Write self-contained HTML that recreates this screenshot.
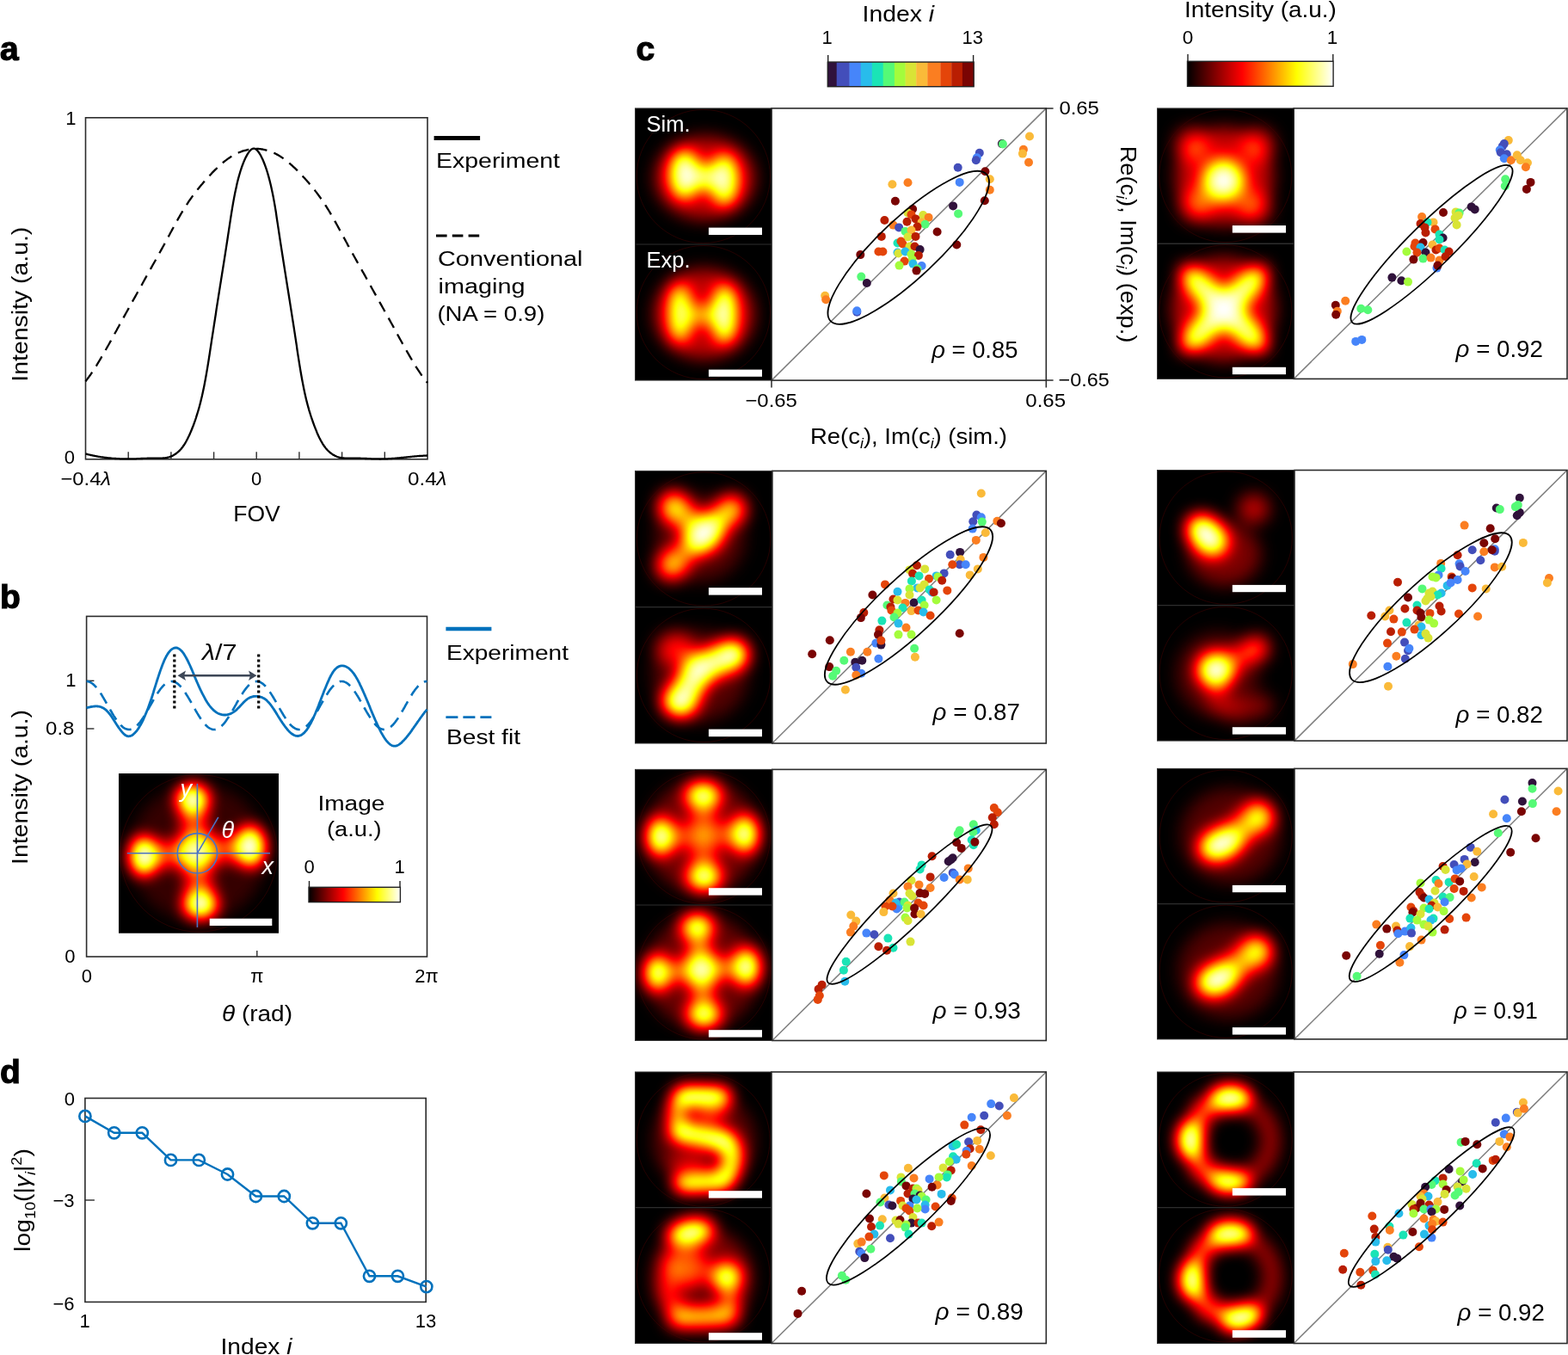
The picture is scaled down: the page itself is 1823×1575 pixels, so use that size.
<!DOCTYPE html>
<html><head><meta charset="utf-8"><style>
html,body{margin:0;padding:0;background:#fff;overflow:hidden;}
svg{display:block;}
text{font-family:'Liberation Sans', Arial, sans-serif;}
</style></head><body>
<svg width="1823" height="1575" viewBox="0 0 1823 1575">
<defs>
<linearGradient id="hotg" x1="0" x2="1" y1="0" y2="0"><stop offset="0" stop-color="#000"/><stop offset="0.375" stop-color="#f00"/><stop offset="0.75" stop-color="#ff0"/><stop offset="1" stop-color="#fff"/></linearGradient>
<filter id="hot9_5" x="-10%" y="-10%" width="120%" height="120%" color-interpolation-filters="sRGB"><feGaussianBlur stdDeviation="9.5"/><feComponentTransfer><feFuncR type="table" tableValues="0 0.3333 0.6667 1 1 1 1 1 1"/><feFuncG type="table" tableValues="0 0 0 0 0.3333 0.6667 1 1 1"/><feFuncB type="table" tableValues="0 0 0 0 0 0 0 0.5 1"/><feFuncA type="linear" slope="0" intercept="1"/></feComponentTransfer></filter>
<clipPath id="cl1"><rect x="738.50" y="125.90" width="158.50" height="158.10"/></clipPath>
<clipPath id="cl2"><rect x="738.50" y="284.00" width="158.50" height="158.10"/></clipPath>
<clipPath id="cl3"><rect x="738.50" y="547.40" width="159.30" height="158.30"/></clipPath>
<clipPath id="cl4"><rect x="738.50" y="705.70" width="159.30" height="158.30"/></clipPath>
<clipPath id="cl5"><rect x="738.50" y="894.40" width="159.25" height="157.55"/></clipPath>
<clipPath id="cl6"><rect x="738.50" y="1051.95" width="159.25" height="157.55"/></clipPath>
<filter id="hot9" x="-10%" y="-10%" width="120%" height="120%" color-interpolation-filters="sRGB"><feGaussianBlur stdDeviation="9"/><feComponentTransfer><feFuncR type="table" tableValues="0 0.3333 0.6667 1 1 1 1 1 1"/><feFuncG type="table" tableValues="0 0 0 0 0.3333 0.6667 1 1 1"/><feFuncB type="table" tableValues="0 0 0 0 0 0 0 0.5 1"/><feFuncA type="linear" slope="0" intercept="1"/></feComponentTransfer></filter>
<clipPath id="cl7"><rect x="738.50" y="1246.00" width="158.35" height="157.75"/></clipPath>
<clipPath id="cl8"><rect x="738.50" y="1403.75" width="158.35" height="157.75"/></clipPath>
<filter id="hot10" x="-10%" y="-10%" width="120%" height="120%" color-interpolation-filters="sRGB"><feGaussianBlur stdDeviation="10"/><feComponentTransfer><feFuncR type="table" tableValues="0 0.3333 0.6667 1 1 1 1 1 1"/><feFuncG type="table" tableValues="0 0 0 0 0.3333 0.6667 1 1 1"/><feFuncB type="table" tableValues="0 0 0 0 0 0 0 0.5 1"/><feFuncA type="linear" slope="0" intercept="1"/></feComponentTransfer></filter>
<clipPath id="cl9"><rect x="1345.50" y="125.90" width="158.70" height="157.25"/></clipPath>
<clipPath id="cl10"><rect x="1345.50" y="283.15" width="158.70" height="157.25"/></clipPath>
<clipPath id="cl11"><rect x="1345.50" y="546.50" width="159.40" height="157.30"/></clipPath>
<clipPath id="cl12"><rect x="1345.50" y="703.80" width="159.40" height="157.30"/></clipPath>
<clipPath id="cl13"><rect x="1345.50" y="893.40" width="159.40" height="157.25"/></clipPath>
<clipPath id="cl14"><rect x="1345.50" y="1050.65" width="159.40" height="157.25"/></clipPath>
<clipPath id="cl15"><rect x="1345.50" y="1246.00" width="158.70" height="157.75"/></clipPath>
<clipPath id="cl16"><rect x="1345.50" y="1403.75" width="158.70" height="157.75"/></clipPath>
<clipPath id="cl17"><rect x="138.00" y="899.10" width="186.00" height="185.60"/></clipPath>
</defs>
<rect width="1823" height="1575" fill="#fff"/>
<text x="0.0" y="69.9" font-size="39" font-weight="900" stroke="#000" stroke-width="1.2">a</text>
<text x="0.0" y="707.2" font-size="39" font-weight="900" stroke="#000" stroke-width="1.2">b</text>
<text x="739.5" y="69.7" font-size="39" font-weight="900" stroke="#000" stroke-width="1.2">c</text>
<text x="0.0" y="1259.4" font-size="39" font-weight="900" stroke="#000" stroke-width="1.2">d</text>
<rect x="99.5" y="136.8" width="397.5" height="396.99999999999994" fill="none" stroke="#2b2b2b" stroke-width="1.6"/>
<line x1="149.2" y1="533.8" x2="149.2" y2="525.3" stroke="#2b2b2b" stroke-width="1.4"/>
<line x1="198.9" y1="533.8" x2="198.9" y2="525.3" stroke="#2b2b2b" stroke-width="1.4"/>
<line x1="248.6" y1="533.8" x2="248.6" y2="525.3" stroke="#2b2b2b" stroke-width="1.4"/>
<line x1="298.2" y1="533.8" x2="298.2" y2="525.3" stroke="#2b2b2b" stroke-width="1.4"/>
<line x1="347.9" y1="533.8" x2="347.9" y2="525.3" stroke="#2b2b2b" stroke-width="1.4"/>
<line x1="397.6" y1="533.8" x2="397.6" y2="525.3" stroke="#2b2b2b" stroke-width="1.4"/>
<line x1="447.3" y1="533.8" x2="447.3" y2="525.3" stroke="#2b2b2b" stroke-width="1.4"/>
<path d="M99.5,527.5 L100.3,527.7 L101.1,527.9 L101.9,528.1 L102.7,528.3 L103.5,528.5 L104.3,528.7 L105.1,528.9 L105.9,529.1 L106.7,529.2 L107.5,529.4 L108.3,529.6 L109.1,529.7 L109.9,529.9 L110.7,530.1 L111.4,530.2 L112.2,530.4 L113.0,530.5 L113.8,530.6 L114.6,530.8 L115.4,530.9 L116.2,531.0 L117.0,531.2 L117.8,531.3 L118.6,531.4 L119.4,531.5 L120.2,531.6 L121.0,531.7 L121.8,531.8 L122.6,531.9 L123.4,532.0 L124.2,532.1 L125.0,532.2 L125.8,532.3 L126.6,532.4 L127.4,532.5 L128.2,532.5 L129.0,532.6 L129.8,532.7 L130.6,532.8 L131.4,532.8 L132.2,532.9 L133.0,532.9 L133.8,533.0 L134.6,533.0 L135.3,533.1 L136.1,533.1 L136.9,533.2 L137.7,533.2 L138.5,533.2 L139.3,533.3 L140.1,533.3 L140.9,533.3 L141.7,533.4 L142.5,533.4 L143.3,533.4 L144.1,533.4 L144.9,533.4 L145.7,533.4 L146.5,533.4 L147.3,533.4 L148.1,533.4 L148.9,533.4 L149.7,533.4 L150.5,533.4 L151.3,533.4 L152.1,533.4 L152.9,533.4 L153.7,533.4 L154.5,533.4 L155.3,533.3 L156.1,533.3 L156.9,533.3 L157.7,533.3 L158.4,533.3 L159.2,533.2 L160.0,533.2 L160.8,533.2 L161.6,533.1 L162.4,533.1 L163.2,533.1 L164.0,533.0 L164.8,533.0 L165.6,533.0 L166.4,532.9 L167.2,532.9 L168.0,532.9 L168.8,532.8 L169.6,532.8 L170.4,532.8 L171.2,532.7 L172.0,532.7 L172.8,532.7 L173.6,532.7 L174.4,532.6 L175.2,532.6 L176.0,532.6 L176.8,532.6 L177.6,532.6 L178.4,532.6 L179.2,532.6 L180.0,532.6 L180.8,532.6 L181.5,532.6 L182.3,532.6 L183.1,532.6 L183.9,532.7 L184.7,532.7 L185.5,532.7 L186.3,532.7 L187.1,532.6 L187.9,532.6 L188.7,532.6 L189.5,532.5 L190.3,532.5 L191.1,532.4 L191.9,532.3 L192.7,532.2 L193.5,532.1 L194.3,531.9 L195.1,531.7 L195.9,531.5 L196.7,531.3 L197.5,531.0 L198.3,530.7 L199.1,530.4 L199.9,530.1 L200.7,529.7 L201.5,529.3 L202.3,528.8 L203.1,528.3 L203.9,527.8 L204.7,527.3 L205.4,526.7 L206.2,526.0 L207.0,525.3 L207.8,524.6 L208.6,523.9 L209.4,523.0 L210.2,522.2 L211.0,521.2 L211.8,520.2 L212.6,519.2 L213.4,518.0 L214.2,516.8 L215.0,515.6 L215.8,514.2 L216.6,512.8 L217.4,511.3 L218.2,509.8 L219.0,508.1 L219.8,506.5 L220.6,504.7 L221.4,502.9 L222.2,501.0 L223.0,499.0 L223.8,497.0 L224.6,495.0 L225.4,492.8 L226.2,490.6 L227.0,488.4 L227.8,486.0 L228.5,483.6 L229.3,481.1 L230.1,478.5 L230.9,475.8 L231.7,473.0 L232.5,470.0 L233.3,466.9 L234.1,463.6 L234.9,460.2 L235.7,456.6 L236.5,452.8 L237.3,448.9 L238.1,444.8 L238.9,440.5 L239.7,436.0 L240.5,431.4 L241.3,426.6 L242.1,421.7 L242.9,416.6 L243.7,411.5 L244.5,406.2 L245.3,401.0 L246.1,395.7 L246.9,390.5 L247.7,385.3 L248.5,380.1 L249.3,375.0 L250.1,369.8 L250.9,364.8 L251.6,359.7 L252.4,354.6 L253.2,349.6 L254.0,344.5 L254.8,339.5 L255.6,334.4 L256.4,329.4 L257.2,324.4 L258.0,319.3 L258.8,314.3 L259.6,309.2 L260.4,304.2 L261.2,299.1 L262.0,294.0 L262.8,288.9 L263.6,283.7 L264.4,278.5 L265.2,273.2 L266.0,267.9 L266.8,262.6 L267.6,257.3 L268.4,252.1 L269.2,247.0 L270.0,242.1 L270.8,237.4 L271.6,232.9 L272.4,228.6 L273.2,224.6 L274.0,220.8 L274.8,217.2 L275.5,213.7 L276.3,210.5 L277.1,207.4 L277.9,204.5 L278.7,201.7 L279.5,199.0 L280.3,196.6 L281.1,194.2 L281.9,192.0 L282.7,189.9 L283.5,187.9 L284.3,186.0 L285.1,184.3 L285.9,182.6 L286.7,181.1 L287.5,179.6 L288.3,178.3 L289.1,177.1 L289.9,176.1 L290.7,175.1 L291.5,174.3 L292.3,173.7 L293.1,173.1 L293.9,172.8 L294.7,172.6 L295.5,172.6 L296.3,172.8 L297.1,173.2 L297.9,173.8 L298.6,174.5 L299.4,175.3 L300.2,176.2 L301.0,177.3 L301.8,178.5 L302.6,179.8 L303.4,181.3 L304.2,182.9 L305.0,184.5 L305.8,186.3 L306.6,188.2 L307.4,190.2 L308.2,192.3 L309.0,194.6 L309.8,196.9 L310.6,199.5 L311.4,202.1 L312.2,204.9 L313.0,207.9 L313.8,211.0 L314.6,214.3 L315.4,217.7 L316.2,221.4 L317.0,225.2 L317.8,229.3 L318.6,233.6 L319.4,238.1 L320.2,242.9 L321.0,247.8 L321.7,252.9 L322.5,258.1 L323.3,263.4 L324.1,268.7 L324.9,274.0 L325.7,279.3 L326.5,284.5 L327.3,289.7 L328.1,294.8 L328.9,299.9 L329.7,305.0 L330.5,310.0 L331.3,315.1 L332.1,320.1 L332.9,325.2 L333.7,330.2 L334.5,335.2 L335.3,340.3 L336.1,345.3 L336.9,350.4 L337.7,355.4 L338.5,360.5 L339.3,365.6 L340.1,370.7 L340.9,375.8 L341.7,380.9 L342.5,386.1 L343.3,391.3 L344.1,396.6 L344.9,401.8 L345.6,407.1 L346.4,412.3 L347.2,417.4 L348.0,422.5 L348.8,427.4 L349.6,432.2 L350.4,436.8 L351.2,441.2 L352.0,445.4 L352.8,449.5 L353.6,453.4 L354.4,457.2 L355.2,460.8 L356.0,464.2 L356.8,467.4 L357.6,470.5 L358.4,473.4 L359.2,476.3 L360.0,478.9 L360.8,481.5 L361.6,484.0 L362.4,486.4 L363.2,488.7 L364.0,491.0 L364.8,493.2 L365.6,495.3 L366.4,497.4 L367.2,499.4 L368.0,501.3 L368.7,503.2 L369.5,505.0 L370.3,506.7 L371.1,508.4 L371.9,510.0 L372.7,511.6 L373.5,513.0 L374.3,514.4 L375.1,515.8 L375.9,517.0 L376.7,518.2 L377.5,519.3 L378.3,520.4 L379.1,521.4 L379.9,522.3 L380.7,523.2 L381.5,524.0 L382.3,524.7 L383.1,525.5 L383.9,526.1 L384.7,526.8 L385.5,527.3 L386.3,527.9 L387.1,528.4 L387.9,528.9 L388.7,529.3 L389.5,529.8 L390.3,530.1 L391.1,530.5 L391.8,530.8 L392.6,531.1 L393.4,531.3 L394.2,531.6 L395.0,531.8 L395.8,531.9 L396.6,532.1 L397.4,532.2 L398.2,532.3 L399.0,532.4 L399.8,532.5 L400.6,532.6 L401.4,532.6 L402.2,532.6 L403.0,532.7 L403.8,532.7 L404.6,532.7 L405.4,532.7 L406.2,532.7 L407.0,532.6 L407.8,532.6 L408.6,532.6 L409.4,532.6 L410.2,532.6 L411.0,532.6 L411.8,532.6 L412.6,532.6 L413.4,532.6 L414.2,532.6 L415.0,532.6 L415.7,532.6 L416.5,532.7 L417.3,532.7 L418.1,532.7 L418.9,532.7 L419.7,532.8 L420.5,532.8 L421.3,532.8 L422.1,532.9 L422.9,532.9 L423.7,532.9 L424.5,533.0 L425.3,533.0 L426.1,533.0 L426.9,533.1 L427.7,533.1 L428.5,533.1 L429.3,533.2 L430.1,533.2 L430.9,533.2 L431.7,533.3 L432.5,533.3 L433.3,533.3 L434.1,533.3 L434.9,533.4 L435.7,533.4 L436.5,533.4 L437.3,533.4 L438.1,533.4 L438.8,533.4 L439.6,533.4 L440.4,533.4 L441.2,533.5 L442.0,533.5 L442.8,533.5 L443.6,533.4 L444.4,533.4 L445.2,533.4 L446.0,533.4 L446.8,533.4 L447.6,533.4 L448.4,533.4 L449.2,533.3 L450.0,533.3 L450.8,533.3 L451.6,533.2 L452.4,533.2 L453.2,533.1 L454.0,533.1 L454.8,533.1 L455.6,533.0 L456.4,532.9 L457.2,532.9 L458.0,532.8 L458.8,532.8 L459.6,532.7 L460.4,532.6 L461.2,532.6 L461.9,532.5 L462.7,532.4 L463.5,532.4 L464.3,532.3 L465.1,532.2 L465.9,532.1 L466.7,532.0 L467.5,532.0 L468.3,531.9 L469.1,531.8 L469.9,531.7 L470.7,531.6 L471.5,531.6 L472.3,531.5 L473.1,531.4 L473.9,531.3 L474.7,531.2 L475.5,531.1 L476.3,531.1 L477.1,531.0 L477.9,530.9 L478.7,530.8 L479.5,530.7 L480.3,530.7 L481.1,530.6 L481.9,530.5 L482.7,530.4 L483.5,530.4 L484.3,530.3 L485.1,530.2 L485.8,530.2 L486.6,530.1 L487.4,530.0 L488.2,530.0 L489.0,529.9 L489.8,529.9 L490.6,529.8 L491.4,529.8 L492.2,529.7 L493.0,529.7 L493.8,529.6 L494.6,529.6 L495.4,529.6 L496.2,529.5 L497.0,529.5" fill="none" stroke="#000" stroke-width="2.3" stroke-linejoin="round"/>
<path d="M99.5,443.2 L100.5,441.9 L101.5,440.6 L102.5,439.2 L103.5,437.9 L104.5,436.5 L105.5,435.1 L106.5,433.6 L107.5,432.1 L108.5,430.6 L109.5,429.1 L110.5,427.6 L111.5,426.0 L112.5,424.4 L113.4,422.8 L114.4,421.2 L115.4,419.5 L116.4,417.8 L117.4,416.2 L118.4,414.5 L119.4,412.8 L120.4,411.0 L121.4,409.3 L122.4,407.5 L123.4,405.8 L124.4,404.0 L125.4,402.2 L126.4,400.5 L127.4,398.7 L128.4,396.9 L129.4,395.1 L130.4,393.2 L131.4,391.4 L132.4,389.6 L133.4,387.8 L134.4,386.0 L135.4,384.2 L136.4,382.3 L137.4,380.5 L138.4,378.7 L139.3,376.9 L140.3,375.1 L141.3,373.3 L142.3,371.5 L143.3,369.7 L144.3,367.9 L145.3,366.1 L146.3,364.3 L147.3,362.5 L148.3,360.7 L149.3,358.9 L150.3,357.1 L151.3,355.3 L152.3,353.5 L153.3,351.7 L154.3,349.9 L155.3,348.2 L156.3,346.4 L157.3,344.6 L158.3,342.8 L159.3,341.0 L160.3,339.2 L161.3,337.4 L162.3,335.6 L163.3,333.8 L164.3,332.0 L165.3,330.2 L166.2,328.5 L167.2,326.7 L168.2,324.9 L169.2,323.1 L170.2,321.3 L171.2,319.5 L172.2,317.7 L173.2,315.9 L174.2,314.2 L175.2,312.4 L176.2,310.6 L177.2,308.8 L178.2,307.0 L179.2,305.2 L180.2,303.5 L181.2,301.7 L182.2,299.9 L183.2,298.1 L184.2,296.3 L185.2,294.5 L186.2,292.7 L187.2,290.9 L188.2,289.1 L189.2,287.3 L190.2,285.5 L191.2,283.7 L192.2,281.9 L193.1,280.0 L194.1,278.2 L195.1,276.4 L196.1,274.5 L197.1,272.7 L198.1,270.8 L199.1,269.0 L200.1,267.1 L201.1,265.3 L202.1,263.4 L203.1,261.6 L204.1,259.8 L205.1,258.0 L206.1,256.2 L207.1,254.4 L208.1,252.7 L209.1,250.9 L210.1,249.2 L211.1,247.5 L212.1,245.8 L213.1,244.2 L214.1,242.6 L215.1,241.0 L216.1,239.4 L217.1,237.9 L218.1,236.4 L219.0,234.9 L220.0,233.4 L221.0,232.0 L222.0,230.6 L223.0,229.2 L224.0,227.8 L225.0,226.4 L226.0,225.1 L227.0,223.8 L228.0,222.5 L229.0,221.2 L230.0,219.9 L231.0,218.7 L232.0,217.5 L233.0,216.3 L234.0,215.0 L235.0,213.9 L236.0,212.7 L237.0,211.5 L238.0,210.4 L239.0,209.2 L240.0,208.1 L241.0,207.0 L242.0,205.9 L243.0,204.8 L244.0,203.8 L245.0,202.7 L245.9,201.7 L246.9,200.6 L247.9,199.6 L248.9,198.6 L249.9,197.6 L250.9,196.7 L251.9,195.7 L252.9,194.7 L253.9,193.8 L254.9,192.9 L255.9,192.0 L256.9,191.1 L257.9,190.2 L258.9,189.4 L259.9,188.5 L260.9,187.7 L261.9,186.9 L262.9,186.2 L263.9,185.4 L264.9,184.7 L265.9,183.9 L266.9,183.3 L267.9,182.6 L268.9,181.9 L269.9,181.3 L270.9,180.7 L271.8,180.2 L272.8,179.6 L273.8,179.1 L274.8,178.6 L275.8,178.1 L276.8,177.7 L277.8,177.2 L278.8,176.8 L279.8,176.5 L280.8,176.1 L281.8,175.7 L282.8,175.4 L283.8,175.1 L284.8,174.8 L285.8,174.6 L286.8,174.3 L287.8,174.1 L288.8,173.8 L289.8,173.6 L290.8,173.5 L291.8,173.3 L292.8,173.1 L293.8,173.0 L294.8,172.9 L295.8,172.8 L296.8,172.8 L297.8,172.8 L298.7,172.8 L299.7,172.9 L300.7,173.0 L301.7,173.1 L302.7,173.2 L303.7,173.4 L304.7,173.5 L305.7,173.7 L306.7,174.0 L307.7,174.2 L308.7,174.4 L309.7,174.7 L310.7,175.0 L311.7,175.3 L312.7,175.6 L313.7,175.9 L314.7,176.3 L315.7,176.6 L316.7,177.0 L317.7,177.5 L318.7,177.9 L319.7,178.4 L320.7,178.8 L321.7,179.4 L322.7,179.9 L323.7,180.4 L324.7,181.0 L325.6,181.6 L326.6,182.3 L327.6,182.9 L328.6,183.6 L329.6,184.3 L330.6,185.0 L331.6,185.8 L332.6,186.5 L333.6,187.3 L334.6,188.1 L335.6,189.0 L336.6,189.8 L337.6,190.7 L338.6,191.6 L339.6,192.4 L340.6,193.4 L341.6,194.3 L342.6,195.2 L343.6,196.2 L344.6,197.1 L345.6,198.1 L346.6,199.1 L347.6,200.1 L348.6,201.2 L349.6,202.2 L350.6,203.2 L351.5,204.3 L352.5,205.4 L353.5,206.5 L354.5,207.6 L355.5,208.7 L356.5,209.8 L357.5,210.9 L358.5,212.1 L359.5,213.3 L360.5,214.5 L361.5,215.7 L362.5,216.9 L363.5,218.1 L364.5,219.3 L365.5,220.6 L366.5,221.9 L367.5,223.1 L368.5,224.4 L369.5,225.8 L370.5,227.1 L371.5,228.5 L372.5,229.9 L373.5,231.3 L374.5,232.7 L375.5,234.1 L376.5,235.6 L377.5,237.1 L378.4,238.6 L379.4,240.2 L380.4,241.8 L381.4,243.4 L382.4,245.0 L383.4,246.7 L384.4,248.4 L385.4,250.1 L386.4,251.8 L387.4,253.5 L388.4,255.3 L389.4,257.1 L390.4,258.9 L391.4,260.7 L392.4,262.5 L393.4,264.4 L394.4,266.2 L395.4,268.1 L396.4,269.9 L397.4,271.8 L398.4,273.6 L399.4,275.5 L400.4,277.3 L401.4,279.1 L402.4,281.0 L403.4,282.8 L404.3,284.6 L405.3,286.4 L406.3,288.2 L407.3,290.0 L408.3,291.8 L409.3,293.6 L410.3,295.4 L411.3,297.2 L412.3,299.0 L413.3,300.8 L414.3,302.6 L415.3,304.4 L416.3,306.1 L417.3,307.9 L418.3,309.7 L419.3,311.5 L420.3,313.3 L421.3,315.1 L422.3,316.8 L423.3,318.6 L424.3,320.4 L425.3,322.2 L426.3,324.0 L427.3,325.8 L428.3,327.6 L429.3,329.4 L430.3,331.2 L431.2,332.9 L432.2,334.7 L433.2,336.5 L434.2,338.3 L435.2,340.1 L436.2,341.9 L437.2,343.7 L438.2,345.5 L439.2,347.3 L440.2,349.1 L441.2,350.9 L442.2,352.6 L443.2,354.4 L444.2,356.2 L445.2,358.0 L446.2,359.8 L447.2,361.6 L448.2,363.4 L449.2,365.2 L450.2,367.0 L451.2,368.8 L452.2,370.6 L453.2,372.4 L454.2,374.2 L455.2,376.0 L456.2,377.8 L457.2,379.6 L458.1,381.4 L459.1,383.3 L460.1,385.1 L461.1,386.9 L462.1,388.7 L463.1,390.5 L464.1,392.4 L465.1,394.2 L466.1,396.0 L467.1,397.8 L468.1,399.6 L469.1,401.4 L470.1,403.1 L471.1,404.9 L472.1,406.7 L473.1,408.4 L474.1,410.2 L475.1,411.9 L476.1,413.6 L477.1,415.3 L478.1,417.0 L479.1,418.7 L480.1,420.3 L481.1,422.0 L482.1,423.6 L483.1,425.2 L484.0,426.8 L485.0,428.3 L486.0,429.9 L487.0,431.4 L488.0,432.9 L489.0,434.3 L490.0,435.8 L491.0,437.2 L492.0,438.6 L493.0,439.9 L494.0,441.2 L495.0,442.5 L496.0,443.8 L497.0,445.0" fill="none" stroke="#000" stroke-width="2.3" stroke-dasharray="13 8.5"/>
<text x="88.5" y="144.8" font-size="22" text-anchor="end">1</text>
<text x="87.0" y="539.2" font-size="22" text-anchor="end">0</text>
<text x="70.5" y="564.0" font-size="22" textLength="58.5" lengthAdjust="spacingAndGlyphs">&#8722;0.4<tspan font-style="italic">&#955;</tspan></text>
<text x="298.0" y="564.0" font-size="22" text-anchor="middle">0</text>
<text x="474.0" y="564.0" font-size="22" textLength="45.5" lengthAdjust="spacingAndGlyphs">0.4<tspan font-style="italic">&#955;</tspan></text>
<text x="298.5" y="606.0" font-size="26.5" text-anchor="middle">FOV</text>
<text transform="translate(31.8,353.7) rotate(-90)" font-size="26.5" text-anchor="middle" textLength="180" lengthAdjust="spacingAndGlyphs">Intensity (a.u.)</text>
<line x1="504.6" y1="160.4" x2="558.1" y2="160.4" stroke="#000" stroke-width="5"/>
<text x="507.0" y="195.0" font-size="24.7" textLength="144" lengthAdjust="spacingAndGlyphs">Experiment</text>
<line x1="507" y1="274" x2="557.6" y2="274" stroke="#000" stroke-width="3" stroke-dasharray="12.6 6.2"/>
<text x="509.0" y="308.5" font-size="24.7" textLength="168.5" lengthAdjust="spacingAndGlyphs">Conventional</text>
<text x="509.6" y="340.8" font-size="24.7" textLength="101" lengthAdjust="spacingAndGlyphs">imaging</text>
<text x="508.4" y="373.0" font-size="24.7" textLength="125" lengthAdjust="spacingAndGlyphs">(NA = 0.9)</text>
<rect x="100.6" y="716.4" width="395.9" height="395.6" fill="none" stroke="#2b2b2b" stroke-width="1.6"/>
<line x1="100.6" y1="847" x2="109.39999999999999" y2="847" stroke="#2b2b2b" stroke-width="1.4"/>
<line x1="100.6" y1="791.3" x2="109.39999999999999" y2="791.3" stroke="#2b2b2b" stroke-width="1.4"/>
<line x1="298.8" y1="1112.0" x2="298.8" y2="1105.0" stroke="#2b2b2b" stroke-width="1.4"/>
<path d="M100.6,792.0 L101.4,792.0 L102.2,792.1 L103.0,792.3 L103.8,792.6 L104.6,792.9 L105.4,793.3 L106.2,793.7 L106.9,794.2 L107.7,794.8 L108.5,795.5 L109.3,796.2 L110.1,797.0 L110.9,797.8 L111.7,798.7 L112.5,799.6 L113.3,800.6 L114.1,801.7 L114.9,802.8 L115.7,803.9 L116.5,805.1 L117.3,806.3 L118.1,807.5 L118.8,808.8 L119.6,810.1 L120.4,811.4 L121.2,812.8 L122.0,814.2 L122.8,815.6 L123.6,817.0 L124.4,818.4 L125.2,819.8 L126.0,821.2 L126.8,822.6 L127.6,824.0 L128.4,825.4 L129.2,826.8 L130.0,828.1 L130.7,829.5 L131.5,830.8 L132.3,832.1 L133.1,833.3 L133.9,834.5 L134.7,835.7 L135.5,836.9 L136.3,838.0 L137.1,839.0 L137.9,840.1 L138.7,841.0 L139.5,841.9 L140.3,842.8 L141.1,843.6 L141.9,844.3 L142.6,845.0 L143.4,845.6 L144.2,846.1 L145.0,846.6 L145.8,847.0 L146.6,847.3 L147.4,847.6 L148.2,847.8 L149.0,847.9 L149.8,848.0 L150.6,848.0 L151.4,847.9 L152.2,847.7 L153.0,847.5 L153.8,847.2 L154.6,846.9 L155.3,846.4 L156.1,845.9 L156.9,845.4 L157.7,844.7 L158.5,844.0 L159.3,843.3 L160.1,842.5 L160.9,841.6 L161.7,840.7 L162.5,839.7 L163.3,838.7 L164.1,837.6 L164.9,836.5 L165.7,835.3 L166.5,834.1 L167.2,832.9 L168.0,831.6 L168.8,830.3 L169.6,829.0 L170.4,827.7 L171.2,826.3 L172.0,824.9 L172.8,823.5 L173.6,822.1 L174.4,820.7 L175.2,819.3 L176.0,817.9 L176.8,816.5 L177.6,815.1 L178.4,813.7 L179.1,812.3 L179.9,811.0 L180.7,809.7 L181.5,808.4 L182.3,807.1 L183.1,805.9 L183.9,804.7 L184.7,803.5 L185.5,802.4 L186.3,801.3 L187.1,800.3 L187.9,799.3 L188.7,798.4 L189.5,797.5 L190.3,796.7 L191.0,795.9 L191.8,795.3 L192.6,794.6 L193.4,794.1 L194.2,793.6 L195.0,793.1 L195.8,792.8 L196.6,792.5 L197.4,792.3 L198.2,792.1 L199.0,792.0 L199.8,792.0 L200.6,792.1 L201.4,792.2 L202.2,792.4 L202.9,792.7 L203.7,793.0 L204.5,793.4 L205.3,793.9 L206.1,794.4 L206.9,795.0 L207.7,795.7 L208.5,796.5 L209.3,797.2 L210.1,798.1 L210.9,799.0 L211.7,800.0 L212.5,801.0 L213.3,802.0 L214.1,803.1 L214.8,804.3 L215.6,805.5 L216.4,806.7 L217.2,808.0 L218.0,809.2 L218.8,810.6 L219.6,811.9 L220.4,813.3 L221.2,814.6 L222.0,816.0 L222.8,817.4 L223.6,818.8 L224.4,820.3 L225.2,821.7 L226.0,823.1 L226.7,824.5 L227.5,825.9 L228.3,827.2 L229.1,828.6 L229.9,829.9 L230.7,831.2 L231.5,832.5 L232.3,833.7 L233.1,835.0 L233.9,836.1 L234.7,837.3 L235.5,838.4 L236.3,839.4 L237.1,840.4 L237.9,841.3 L238.6,842.2 L239.4,843.0 L240.2,843.8 L241.0,844.5 L241.8,845.2 L242.6,845.8 L243.4,846.3 L244.2,846.7 L245.0,847.1 L245.8,847.4 L246.6,847.7 L247.4,847.9 L248.2,848.0 L249.0,848.0 L249.8,848.0 L250.6,847.9 L251.3,847.7 L252.1,847.4 L252.9,847.1 L253.7,846.7 L254.5,846.3 L255.3,845.7 L256.1,845.2 L256.9,844.5 L257.7,843.8 L258.5,843.0 L259.3,842.2 L260.1,841.3 L260.9,840.4 L261.7,839.4 L262.5,838.3 L263.2,837.2 L264.0,836.1 L264.8,834.9 L265.6,833.7 L266.4,832.5 L267.2,831.2 L268.0,829.9 L268.8,828.5 L269.6,827.2 L270.4,825.8 L271.2,824.4 L272.0,823.0 L272.8,821.6 L273.6,820.2 L274.4,818.8 L275.1,817.4 L275.9,816.0 L276.7,814.6 L277.5,813.2 L278.3,811.9 L279.1,810.5 L279.9,809.2 L280.7,807.9 L281.5,806.7 L282.3,805.4 L283.1,804.2 L283.9,803.1 L284.7,802.0 L285.5,800.9 L286.3,799.9 L287.0,799.0 L287.8,798.1 L288.6,797.2 L289.4,796.4 L290.2,795.7 L291.0,795.0 L291.8,794.4 L292.6,793.9 L293.4,793.4 L294.2,793.0 L295.0,792.7 L295.8,792.4 L296.6,792.2 L297.4,792.1 L298.2,792.0 L298.9,792.0 L299.7,792.1 L300.5,792.3 L301.3,792.5 L302.1,792.8 L302.9,793.1 L303.7,793.6 L304.5,794.1 L305.3,794.6 L306.1,795.3 L306.9,796.0 L307.7,796.7 L308.5,797.5 L309.3,798.4 L310.1,799.3 L310.8,800.3 L311.6,801.3 L312.4,802.4 L313.2,803.5 L314.0,804.7 L314.8,805.9 L315.6,807.1 L316.4,808.4 L317.2,809.7 L318.0,811.0 L318.8,812.4 L319.6,813.7 L320.4,815.1 L321.2,816.5 L322.0,817.9 L322.7,819.3 L323.5,820.7 L324.3,822.2 L325.1,823.6 L325.9,824.9 L326.7,826.3 L327.5,827.7 L328.3,829.0 L329.1,830.4 L329.9,831.7 L330.7,832.9 L331.5,834.2 L332.3,835.4 L333.1,836.5 L333.9,837.6 L334.6,838.7 L335.4,839.7 L336.2,840.7 L337.0,841.6 L337.8,842.5 L338.6,843.3 L339.4,844.1 L340.2,844.8 L341.0,845.4 L341.8,846.0 L342.6,846.4 L343.4,846.9 L344.2,847.2 L345.0,847.5 L345.8,847.8 L346.5,847.9 L347.3,848.0 L348.1,848.0 L348.9,847.9 L349.7,847.8 L350.5,847.6 L351.3,847.3 L352.1,847.0 L352.9,846.6 L353.7,846.1 L354.5,845.5 L355.3,844.9 L356.1,844.3 L356.9,843.5 L357.7,842.7 L358.5,841.9 L359.2,841.0 L360.0,840.0 L360.8,839.0 L361.6,837.9 L362.4,836.8 L363.2,835.7 L364.0,834.5 L364.8,833.3 L365.6,832.0 L366.4,830.7 L367.2,829.4 L368.0,828.1 L368.8,826.7 L369.6,825.3 L370.4,823.9 L371.1,822.5 L371.9,821.1 L372.7,819.7 L373.5,818.3 L374.3,816.9 L375.1,815.5 L375.9,814.1 L376.7,812.7 L377.5,811.4 L378.3,810.1 L379.1,808.8 L379.9,807.5 L380.7,806.2 L381.5,805.0 L382.3,803.8 L383.0,802.7 L383.8,801.6 L384.6,800.6 L385.4,799.6 L386.2,798.7 L387.0,797.8 L387.8,796.9 L388.6,796.2 L389.4,795.5 L390.2,794.8 L391.0,794.2 L391.8,793.7 L392.6,793.3 L393.4,792.9 L394.2,792.6 L394.9,792.3 L395.7,792.1 L396.5,792.0 L397.3,792.0 L398.1,792.0 L398.9,792.1 L399.7,792.3 L400.5,792.6 L401.3,792.9 L402.1,793.3 L402.9,793.7 L403.7,794.3 L404.5,794.9 L405.3,795.5 L406.1,796.2 L406.8,797.0 L407.6,797.8 L408.4,798.7 L409.2,799.7 L410.0,800.7 L410.8,801.7 L411.6,802.8 L412.4,803.9 L413.2,805.1 L414.0,806.3 L414.8,807.6 L415.6,808.8 L416.4,810.2 L417.2,811.5 L418.0,812.8 L418.7,814.2 L419.5,815.6 L420.3,817.0 L421.1,818.4 L421.9,819.8 L422.7,821.2 L423.5,822.6 L424.3,824.0 L425.1,825.4 L425.9,826.8 L426.7,828.2 L427.5,829.5 L428.3,830.8 L429.1,832.1 L429.9,833.4 L430.6,834.6 L431.4,835.8 L432.2,836.9 L433.0,838.0 L433.8,839.1 L434.6,840.1 L435.4,841.0 L436.2,841.9 L437.0,842.8 L437.8,843.6 L438.6,844.3 L439.4,845.0 L440.2,845.6 L441.0,846.1 L441.8,846.6 L442.5,847.0 L443.3,847.3 L444.1,847.6 L444.9,847.8 L445.7,847.9 L446.5,848.0 L447.3,848.0 L448.1,847.9 L448.9,847.7 L449.7,847.5 L450.5,847.2 L451.3,846.8 L452.1,846.4 L452.9,845.9 L453.7,845.3 L454.5,844.7 L455.2,844.0 L456.0,843.3 L456.8,842.5 L457.6,841.6 L458.4,840.7 L459.2,839.7 L460.0,838.6 L460.8,837.6 L461.6,836.4 L462.4,835.3 L463.2,834.1 L464.0,832.8 L464.8,831.6 L465.6,830.3 L466.4,829.0 L467.1,827.6 L467.9,826.2 L468.7,824.9 L469.5,823.5 L470.3,822.1 L471.1,820.6 L471.9,819.2 L472.7,817.8 L473.5,816.4 L474.3,815.0 L475.1,813.6 L475.9,812.3 L476.7,810.9 L477.5,809.6 L478.3,808.3 L479.0,807.0 L479.8,805.8 L480.6,804.6 L481.4,803.5 L482.2,802.3 L483.0,801.3 L483.8,800.2 L484.6,799.3 L485.4,798.3 L486.2,797.5 L487.0,796.7 L487.8,795.9 L488.6,795.2 L489.4,794.6 L490.2,794.0 L490.9,793.5 L491.7,793.1 L492.5,792.8 L493.3,792.5 L494.1,792.2 L494.9,792.1 L495.7,792.0 L496.5,792.0" fill="none" stroke="#0071bc" stroke-width="2.6" stroke-dasharray="14 8"/>
<path d="M100.6,822.8 L101.4,822.6 L102.2,822.4 L103.0,822.2 L103.8,822.1 L104.6,821.9 L105.4,821.7 L106.2,821.5 L106.9,821.4 L107.7,821.3 L108.5,821.2 L109.3,821.1 L110.1,821.0 L110.9,820.9 L111.7,820.9 L112.5,820.9 L113.3,821.0 L114.1,821.1 L114.9,821.2 L115.7,821.3 L116.5,821.5 L117.3,821.8 L118.1,822.1 L118.8,822.4 L119.6,822.8 L120.4,823.2 L121.2,823.7 L122.0,824.3 L122.8,824.9 L123.6,825.6 L124.4,826.4 L125.2,827.2 L126.0,828.1 L126.8,829.1 L127.6,830.1 L128.4,831.1 L129.2,832.3 L130.0,833.4 L130.7,834.6 L131.5,835.8 L132.3,837.0 L133.1,838.3 L133.9,839.5 L134.7,840.7 L135.5,842.0 L136.3,843.2 L137.1,844.4 L137.9,845.6 L138.7,846.7 L139.5,847.8 L140.3,848.9 L141.1,849.9 L141.9,850.8 L142.6,851.7 L143.4,852.6 L144.2,853.3 L145.0,854.0 L145.8,854.5 L146.6,855.0 L147.4,855.4 L148.2,855.6 L149.0,855.8 L149.8,855.8 L150.6,855.7 L151.4,855.6 L152.2,855.3 L153.0,855.0 L153.8,854.5 L154.6,854.0 L155.3,853.3 L156.1,852.6 L156.9,851.8 L157.7,850.9 L158.5,850.0 L159.3,849.0 L160.1,847.9 L160.9,846.7 L161.7,845.4 L162.5,844.1 L163.3,842.8 L164.1,841.3 L164.9,839.8 L165.7,838.3 L166.5,836.6 L167.2,834.9 L168.0,833.2 L168.8,831.3 L169.6,829.4 L170.4,827.5 L171.2,825.5 L172.0,823.4 L172.8,821.3 L173.6,819.1 L174.4,816.8 L175.2,814.5 L176.0,812.1 L176.8,809.7 L177.6,807.2 L178.4,804.7 L179.1,802.2 L179.9,799.6 L180.7,797.1 L181.5,794.6 L182.3,792.0 L183.1,789.5 L183.9,787.1 L184.7,784.6 L185.5,782.2 L186.3,779.9 L187.1,777.6 L187.9,775.4 L188.7,773.3 L189.5,771.3 L190.3,769.4 L191.0,767.6 L191.8,765.9 L192.6,764.3 L193.4,762.8 L194.2,761.4 L195.0,760.1 L195.8,758.9 L196.6,757.9 L197.4,756.9 L198.2,756.0 L199.0,755.3 L199.8,754.6 L200.6,754.1 L201.4,753.7 L202.2,753.3 L202.9,753.1 L203.7,753.0 L204.5,753.0 L205.3,753.0 L206.1,753.2 L206.9,753.5 L207.7,753.9 L208.5,754.4 L209.3,755.0 L210.1,755.7 L210.9,756.5 L211.7,757.3 L212.5,758.3 L213.3,759.4 L214.1,760.5 L214.8,761.8 L215.6,763.1 L216.4,764.5 L217.2,766.0 L218.0,767.5 L218.8,769.1 L219.6,770.8 L220.4,772.5 L221.2,774.3 L222.0,776.1 L222.8,777.9 L223.6,779.8 L224.4,781.7 L225.2,783.6 L226.0,785.5 L226.7,787.4 L227.5,789.2 L228.3,791.1 L229.1,793.0 L229.9,794.8 L230.7,796.6 L231.5,798.4 L232.3,800.1 L233.1,801.8 L233.9,803.5 L234.7,805.1 L235.5,806.7 L236.3,808.2 L237.1,809.7 L237.9,811.2 L238.6,812.6 L239.4,813.9 L240.2,815.2 L241.0,816.5 L241.8,817.7 L242.6,818.9 L243.4,820.0 L244.2,821.0 L245.0,822.0 L245.8,822.9 L246.6,823.8 L247.4,824.6 L248.2,825.4 L249.0,826.1 L249.8,826.7 L250.6,827.3 L251.3,827.9 L252.1,828.4 L252.9,828.9 L253.7,829.3 L254.5,829.6 L255.3,830.0 L256.1,830.2 L256.9,830.5 L257.7,830.6 L258.5,830.8 L259.3,830.9 L260.1,831.0 L260.9,831.0 L261.7,831.0 L262.5,831.0 L263.2,830.9 L264.0,830.8 L264.8,830.6 L265.6,830.4 L266.4,830.2 L267.2,829.9 L268.0,829.6 L268.8,829.2 L269.6,828.8 L270.4,828.4 L271.2,827.9 L272.0,827.4 L272.8,826.8 L273.6,826.2 L274.4,825.6 L275.1,824.9 L275.9,824.1 L276.7,823.3 L277.5,822.5 L278.3,821.7 L279.1,820.8 L279.9,820.0 L280.7,819.1 L281.5,818.3 L282.3,817.4 L283.1,816.6 L283.9,815.8 L284.7,815.0 L285.5,814.3 L286.3,813.6 L287.0,813.0 L287.8,812.4 L288.6,811.9 L289.4,811.4 L290.2,811.0 L291.0,810.6 L291.8,810.3 L292.6,810.1 L293.4,809.9 L294.2,809.7 L295.0,809.5 L295.8,809.4 L296.6,809.4 L297.4,809.4 L298.2,809.4 L298.9,809.4 L299.7,809.5 L300.5,809.6 L301.3,809.7 L302.1,809.9 L302.9,810.1 L303.7,810.3 L304.5,810.6 L305.3,811.0 L306.1,811.4 L306.9,811.8 L307.7,812.3 L308.5,812.8 L309.3,813.4 L310.1,814.1 L310.8,814.9 L311.6,815.7 L312.4,816.5 L313.2,817.4 L314.0,818.4 L314.8,819.4 L315.6,820.5 L316.4,821.6 L317.2,822.8 L318.0,823.9 L318.8,825.1 L319.6,826.4 L320.4,827.6 L321.2,828.9 L322.0,830.1 L322.7,831.4 L323.5,832.7 L324.3,833.9 L325.1,835.2 L325.9,836.4 L326.7,837.7 L327.5,838.9 L328.3,840.1 L329.1,841.2 L329.9,842.4 L330.7,843.5 L331.5,844.6 L332.3,845.6 L333.1,846.6 L333.9,847.6 L334.6,848.5 L335.4,849.4 L336.2,850.2 L337.0,851.0 L337.8,851.7 L338.6,852.4 L339.4,853.0 L340.2,853.5 L341.0,854.0 L341.8,854.5 L342.6,854.8 L343.4,855.1 L344.2,855.3 L345.0,855.4 L345.8,855.5 L346.5,855.5 L347.3,855.4 L348.1,855.2 L348.9,854.9 L349.7,854.6 L350.5,854.2 L351.3,853.6 L352.1,853.1 L352.9,852.4 L353.7,851.7 L354.5,850.8 L355.3,849.9 L356.1,849.0 L356.9,847.9 L357.7,846.8 L358.5,845.6 L359.2,844.3 L360.0,842.9 L360.8,841.5 L361.6,840.0 L362.4,838.4 L363.2,836.8 L364.0,835.1 L364.8,833.3 L365.6,831.5 L366.4,829.7 L367.2,827.8 L368.0,825.9 L368.8,823.9 L369.6,822.0 L370.4,820.0 L371.1,817.9 L371.9,815.9 L372.7,813.9 L373.5,811.8 L374.3,809.8 L375.1,807.7 L375.9,805.7 L376.7,803.6 L377.5,801.6 L378.3,799.7 L379.1,797.7 L379.9,795.8 L380.7,793.9 L381.5,792.1 L382.3,790.4 L383.0,788.7 L383.8,787.1 L384.6,785.5 L385.4,784.1 L386.2,782.7 L387.0,781.4 L387.8,780.3 L388.6,779.2 L389.4,778.3 L390.2,777.4 L391.0,776.7 L391.8,776.0 L392.6,775.5 L393.4,775.0 L394.2,774.6 L394.9,774.3 L395.7,774.1 L396.5,773.9 L397.3,773.9 L398.1,773.9 L398.9,773.9 L399.7,774.1 L400.5,774.2 L401.3,774.5 L402.1,774.8 L402.9,775.2 L403.7,775.6 L404.5,776.1 L405.3,776.6 L406.1,777.2 L406.8,777.9 L407.6,778.7 L408.4,779.5 L409.2,780.4 L410.0,781.3 L410.8,782.3 L411.6,783.4 L412.4,784.6 L413.2,785.8 L414.0,787.1 L414.8,788.5 L415.6,789.9 L416.4,791.3 L417.2,792.9 L418.0,794.4 L418.7,796.1 L419.5,797.7 L420.3,799.4 L421.1,801.1 L421.9,802.9 L422.7,804.7 L423.5,806.5 L424.3,808.4 L425.1,810.2 L425.9,812.1 L426.7,814.0 L427.5,815.9 L428.3,817.8 L429.1,819.7 L429.9,821.6 L430.6,823.6 L431.4,825.5 L432.2,827.4 L433.0,829.3 L433.8,831.1 L434.6,833.0 L435.4,834.9 L436.2,836.7 L437.0,838.5 L437.8,840.2 L438.6,842.0 L439.4,843.7 L440.2,845.4 L441.0,847.0 L441.8,848.6 L442.5,850.1 L443.3,851.6 L444.1,853.0 L444.9,854.4 L445.7,855.7 L446.5,857.0 L447.3,858.2 L448.1,859.4 L448.9,860.5 L449.7,861.5 L450.5,862.4 L451.3,863.3 L452.1,864.0 L452.9,864.7 L453.7,865.4 L454.5,865.9 L455.2,866.3 L456.0,866.7 L456.8,867.0 L457.6,867.1 L458.4,867.2 L459.2,867.2 L460.0,867.1 L460.8,866.9 L461.6,866.6 L462.4,866.3 L463.2,865.9 L464.0,865.4 L464.8,864.8 L465.6,864.2 L466.4,863.6 L467.1,862.9 L467.9,862.1 L468.7,861.3 L469.5,860.5 L470.3,859.6 L471.1,858.8 L471.9,857.8 L472.7,856.9 L473.5,855.9 L474.3,854.9 L475.1,853.9 L475.9,852.8 L476.7,851.8 L477.5,850.7 L478.3,849.6 L479.0,848.5 L479.8,847.4 L480.6,846.3 L481.4,845.1 L482.2,844.0 L483.0,842.9 L483.8,841.7 L484.6,840.6 L485.4,839.4 L486.2,838.3 L487.0,837.2 L487.8,836.0 L488.6,834.9 L489.4,833.8 L490.2,832.7 L490.9,831.7 L491.7,830.6 L492.5,829.6 L493.3,828.5 L494.1,827.5 L494.9,826.6 L495.7,825.6 L496.5,824.7" fill="none" stroke="#0071bc" stroke-width="2.8"/>
<line x1="202.8" y1="760.6" x2="202.8" y2="826" stroke="#000" stroke-width="3.2" stroke-dasharray="3 3"/>
<line x1="300.7" y1="760.6" x2="300.7" y2="826" stroke="#000" stroke-width="3.2" stroke-dasharray="3 3"/>
<line x1="212" y1="785.2" x2="293" y2="785.2" stroke="#3d4757" stroke-width="2.6"/>
<path d="M206.5,785.2 L216,779.5 L214,785.2 L216,790.9 Z" fill="#3d4757"/>
<path d="M298.5,785.2 L289,779.5 L291,785.2 L289,790.9 Z" fill="#3d4757"/>
<text x="235.0" y="767.0" font-size="25" textLength="40.7" lengthAdjust="spacingAndGlyphs"><tspan font-style="italic">&#955;</tspan>/7</text>
<text x="88.5" y="797.8" font-size="22" text-anchor="end">1</text>
<text x="86.5" y="853.5" font-size="22" text-anchor="end" textLength="33.4" lengthAdjust="spacingAndGlyphs">0.8</text>
<text x="87.6" y="1118.5" font-size="22" text-anchor="end">0</text>
<text x="100.8" y="1142.3" font-size="22" text-anchor="middle">0</text>
<text x="298.8" y="1142.3" font-size="22" text-anchor="middle">&#960;</text>
<text x="496.0" y="1142.3" font-size="22" text-anchor="middle">2&#960;</text>
<text x="299.0" y="1187.0" font-size="26.5" text-anchor="middle" textLength="82" lengthAdjust="spacingAndGlyphs"><tspan font-style="italic">&#952;</tspan> (rad)</text>
<text transform="translate(32,915) rotate(-90)" font-size="26.5" text-anchor="middle" textLength="180" lengthAdjust="spacingAndGlyphs">Intensity (a.u.)</text>
<line x1="518.4" y1="731" x2="571.4" y2="731" stroke="#0071bc" stroke-width="4.5"/>
<text x="519.0" y="767.0" font-size="24.7" textLength="142" lengthAdjust="spacingAndGlyphs">Experiment</text>
<line x1="518.4" y1="833.6" x2="571.4" y2="833.6" stroke="#0071bc" stroke-width="2.6" stroke-dasharray="14 6"/>
<text x="519.0" y="865.0" font-size="24.7" textLength="86" lengthAdjust="spacingAndGlyphs">Best fit</text>
<text x="408.4" y="941.9" font-size="24.7" text-anchor="middle" textLength="78" lengthAdjust="spacingAndGlyphs">Image</text>
<text x="411.8" y="972.0" font-size="24.7" text-anchor="middle" textLength="63.5" lengthAdjust="spacingAndGlyphs">(a.u.)</text>
<rect x="98.9" y="1276.5" width="396.29999999999995" height="236.9000000000001" fill="none" stroke="#2b2b2b" stroke-width="1.6"/>
<line x1="98.9" y1="1395" x2="109.9" y2="1395" stroke="#2b2b2b" stroke-width="1.4"/>
<path d="M98.9,1297.4 L132.7,1316.8 L165.3,1316.8 L198.5,1348.4 L231.3,1348.4 L264.5,1365.0 L297.4,1390.5 L330.3,1390.5 L363.4,1421.8 L396.3,1421.8 L429.5,1483.3 L462.4,1483.3 L495.8,1495.6" fill="none" stroke="#0071bc" stroke-width="2.4"/>
<circle cx="98.9" cy="1297.4" r="6.6" fill="none" stroke="#0071bc" stroke-width="2.6"/>
<circle cx="132.7" cy="1316.8" r="6.6" fill="none" stroke="#0071bc" stroke-width="2.6"/>
<circle cx="165.3" cy="1316.8" r="6.6" fill="none" stroke="#0071bc" stroke-width="2.6"/>
<circle cx="198.5" cy="1348.4" r="6.6" fill="none" stroke="#0071bc" stroke-width="2.6"/>
<circle cx="231.3" cy="1348.4" r="6.6" fill="none" stroke="#0071bc" stroke-width="2.6"/>
<circle cx="264.5" cy="1365" r="6.6" fill="none" stroke="#0071bc" stroke-width="2.6"/>
<circle cx="297.4" cy="1390.5" r="6.6" fill="none" stroke="#0071bc" stroke-width="2.6"/>
<circle cx="330.3" cy="1390.5" r="6.6" fill="none" stroke="#0071bc" stroke-width="2.6"/>
<circle cx="363.4" cy="1421.8" r="6.6" fill="none" stroke="#0071bc" stroke-width="2.6"/>
<circle cx="396.3" cy="1421.8" r="6.6" fill="none" stroke="#0071bc" stroke-width="2.6"/>
<circle cx="429.5" cy="1483.3" r="6.6" fill="none" stroke="#0071bc" stroke-width="2.6"/>
<circle cx="462.4" cy="1483.3" r="6.6" fill="none" stroke="#0071bc" stroke-width="2.6"/>
<circle cx="495.8" cy="1495.6" r="6.6" fill="none" stroke="#0071bc" stroke-width="2.6"/>
<text x="87.0" y="1284.5" font-size="22" text-anchor="end">0</text>
<text x="86.5" y="1402.8" font-size="22" text-anchor="end">&#8722;3</text>
<text x="86.5" y="1522.6" font-size="22" text-anchor="end">&#8722;6</text>
<text x="98.5" y="1542.6" font-size="22" text-anchor="middle">1</text>
<text x="495.0" y="1542.6" font-size="22" text-anchor="middle">13</text>
<text x="298.0" y="1574.0" font-size="26.5" text-anchor="middle" textLength="83" lengthAdjust="spacingAndGlyphs">Index <tspan font-style="italic">i</tspan></text>
<text transform="translate(34.5,1395) rotate(-90)" font-size="26.5" text-anchor="middle" textLength="119.8" lengthAdjust="spacingAndGlyphs">log<tspan font-size="17" dy="6">10</tspan><tspan dy="-6">(|</tspan><tspan font-style="italic">&#947;</tspan><tspan font-size="17" dy="6" font-style="italic">i</tspan><tspan dy="-6">|</tspan><tspan font-size="17" dy="-10">2</tspan><tspan dy="10">)</tspan></text>
<rect x="962.3" y="72.1" width="10.7" height="28.6" fill="#30123b"/>
<rect x="972.7" y="72.1" width="15.2" height="28.6" fill="#434eba"/>
<rect x="987.6" y="72.1" width="13.4" height="28.6" fill="#4685fa"/>
<rect x="1000.7" y="72.1" width="13.4" height="28.6" fill="#28bceb"/>
<rect x="1013.8" y="72.1" width="13.2" height="28.6" fill="#1ae4b6"/>
<rect x="1026.7" y="72.1" width="13.5" height="28.6" fill="#55fa76"/>
<rect x="1039.9" y="72.1" width="13.0" height="28.6" fill="#a4fc3c"/>
<rect x="1052.6" y="72.1" width="12.9" height="28.6" fill="#d9e436"/>
<rect x="1065.2" y="72.1" width="13.4" height="28.6" fill="#faba39"/>
<rect x="1078.3" y="72.1" width="15.4" height="28.6" fill="#fb7e21"/>
<rect x="1093.4" y="72.1" width="13.1" height="28.6" fill="#e4450a"/>
<rect x="1106.2" y="72.1" width="13.0" height="28.6" fill="#b91e02"/>
<rect x="1118.9" y="72.1" width="13.5" height="28.6" fill="#7a0403"/>
<rect x="962.3" y="72.1" width="169.8" height="28.6" fill="none" stroke="#222" stroke-width="1.4"/>
<path d="M962.7,64 V72 M1131.6,64 V72" stroke="#222" stroke-width="1.4"/>
<text x="961.5" y="50.7" font-size="22" text-anchor="middle">1</text>
<text x="1130.7" y="50.7" font-size="22" text-anchor="middle">13</text>
<text x="1044.3" y="24.9" font-size="26.5" text-anchor="middle" textLength="83.4" lengthAdjust="spacingAndGlyphs">Index <tspan font-style="italic">i</tspan></text>
<rect x="1380.5" y="71.3" width="169.6" height="29" fill="url(#hotg)" stroke="#222" stroke-width="1.4"/>
<path d="M1381,63 V71 M1549.8,63 V71" stroke="#222" stroke-width="1.4"/>
<text x="1381.0" y="50.6" font-size="22.5" text-anchor="middle">0</text>
<text x="1549.0" y="50.6" font-size="22.5" text-anchor="middle">1</text>
<text x="1465.4" y="20.0" font-size="26.5" text-anchor="middle" textLength="177" lengthAdjust="spacingAndGlyphs">Intensity (a.u.)</text>
<rect x="359" y="1031.3" width="106.4" height="17.3" fill="url(#hotg)" stroke="#222" stroke-width="1.4"/>
<path d="M359.5,1024 V1031 M465,1024 V1031" stroke="#222" stroke-width="1.4"/>
<text x="359.5" y="1014.8" font-size="22" text-anchor="middle">0</text>
<text x="464.5" y="1014.8" font-size="22" text-anchor="middle">1</text>
<line x1="897.0" y1="442.1" x2="1216.3" y2="125.9" stroke="#7f7f7f" stroke-width="1.5"/>
<g><circle cx="1197.0" cy="158.5" r="5.0" fill="#faba39"/><circle cx="1189.9" cy="173.8" r="5.0" fill="#fb7e21"/><circle cx="1188.9" cy="178.6" r="5.0" fill="#faba39"/><circle cx="1196.0" cy="188.8" r="5.0" fill="#fb7e21"/><circle cx="1164.9" cy="167.1" r="5.0" fill="#30123b"/><circle cx="1165.9" cy="167.5" r="5.0" fill="#55fa76"/><circle cx="1138.8" cy="177.8" r="5.0" fill="#434eba"/><circle cx="1135.8" cy="183.2" r="5.0" fill="#4685fa"/><circle cx="1134.8" cy="186.2" r="5.0" fill="#434eba"/><circle cx="1113.7" cy="194.8" r="5.0" fill="#434eba"/><circle cx="1145.4" cy="199.2" r="5.0" fill="#7a0403"/><circle cx="1150.8" cy="208.3" r="5.0" fill="#faba39"/><circle cx="1150.8" cy="220.7" r="5.0" fill="#fb7e21"/><circle cx="1115.7" cy="211.9" r="5.0" fill="#4685fa"/><circle cx="1144.8" cy="233.3" r="5.0" fill="#7a0403"/><circle cx="1108.1" cy="239.4" r="5.0" fill="#30123b"/><circle cx="1114.1" cy="248.4" r="5.0" fill="#55fa76"/><circle cx="1089.6" cy="269.5" r="5.0" fill="#7a0403"/><circle cx="1112.3" cy="284.5" r="5.0" fill="#7a0403"/><circle cx="1037.4" cy="214.3" r="5.0" fill="#faba39"/><circle cx="1055.5" cy="212.3" r="5.0" fill="#fb7e21"/><circle cx="1040.9" cy="233.7" r="5.0" fill="#7a0403"/><circle cx="1061.1" cy="243.0" r="5.0" fill="#7a0403"/><circle cx="1028.4" cy="256.0" r="5.0" fill="#b91e02"/><circle cx="1024.8" cy="274.9" r="5.0" fill="#b91e02"/><circle cx="1021.4" cy="292.5" r="5.0" fill="#e4450a"/><circle cx="1026.4" cy="292.5" r="5.0" fill="#e4450a"/><circle cx="1000.3" cy="296.1" r="5.0" fill="#7a0403"/><circle cx="1001.3" cy="321.6" r="5.0" fill="#55fa76"/><circle cx="1007.8" cy="329.0" r="5.0" fill="#30123b"/><circle cx="959.2" cy="343.7" r="5.0" fill="#faba39"/><circle cx="960.2" cy="348.3" r="5.0" fill="#fb7e21"/><circle cx="996.3" cy="362.8" r="5.0" fill="#434eba"/><circle cx="996.3" cy="361.2" r="5.0" fill="#4685fa"/><circle cx="1055.5" cy="247.4" r="5.0" fill="#d9e436"/><circle cx="1059.5" cy="249.4" r="5.0" fill="#e4450a"/><circle cx="1073.2" cy="250.0" r="5.0" fill="#d9e436"/><circle cx="1079.6" cy="252.8" r="5.0" fill="#fb7e21"/><circle cx="1064.5" cy="254.4" r="5.0" fill="#b91e02"/><circle cx="1054.5" cy="257.8" r="5.0" fill="#b91e02"/><circle cx="1071.6" cy="258.4" r="5.0" fill="#faba39"/><circle cx="1075.6" cy="260.8" r="5.0" fill="#55fa76"/><circle cx="1038.5" cy="261.6" r="5.0" fill="#fb7e21"/><circle cx="1045.1" cy="264.4" r="5.0" fill="#434eba"/><circle cx="1066.5" cy="263.6" r="5.0" fill="#b91e02"/><circle cx="1052.5" cy="268.9" r="5.0" fill="#55fa76"/><circle cx="1059.5" cy="267.5" r="5.0" fill="#faba39"/><circle cx="1055.5" cy="275.5" r="5.0" fill="#d9e436"/><circle cx="1064.5" cy="274.9" r="5.0" fill="#b91e02"/><circle cx="1043.5" cy="282.5" r="5.0" fill="#1ae4b6"/><circle cx="1047.5" cy="280.5" r="5.0" fill="#e4450a"/><circle cx="1049.5" cy="283.5" r="5.0" fill="#e4450a"/><circle cx="1057.5" cy="286.5" r="5.0" fill="#d9e436"/><circle cx="1063.5" cy="286.5" r="5.0" fill="#b91e02"/><circle cx="1069.6" cy="290.1" r="5.0" fill="#30123b"/><circle cx="1043.5" cy="293.5" r="5.0" fill="#28bceb"/><circle cx="1044.5" cy="294.5" r="5.0" fill="#d9e436"/><circle cx="1052.5" cy="292.5" r="5.0" fill="#28bceb"/><circle cx="1059.5" cy="295.5" r="5.0" fill="#a4fc3c"/><circle cx="1067.9" cy="296.9" r="5.0" fill="#b91e02"/><circle cx="1060.5" cy="301.6" r="5.0" fill="#a4fc3c"/><circle cx="1051.5" cy="303.6" r="5.0" fill="#e4450a"/><circle cx="1045.5" cy="308.6" r="5.0" fill="#a4fc3c"/><circle cx="1061.5" cy="306.6" r="5.0" fill="#28bceb"/><circle cx="1071.6" cy="309.0" r="5.0" fill="#4685fa"/><circle cx="1066.5" cy="312.6" r="5.0" fill="#55fa76"/><circle cx="1065.5" cy="314.6" r="5.0" fill="#7a0403"/></g>
<ellipse cx="1056.2" cy="287.8" rx="124.5" ry="34.5" transform="rotate(-43.30 1056.2 287.8)" fill="none" stroke="#000" stroke-width="1.7"/>
<rect x="897.0" y="125.9" width="319.3" height="316.2" fill="none" stroke="#2b2b2b" stroke-width="1.6"/>
<text x="1083.2" y="415.8" font-size="27" textLength="100.3" lengthAdjust="spacingAndGlyphs"><tspan font-style="italic">&#961;</tspan> = 0.85</text>
<g clip-path="url(#cl1)"><g filter="url(#hot9_5)" transform="translate(738.50,125.90)"><rect x="-20" y="-20" width="198.5" height="198.1" fill="#000"/><ellipse cx="81" cy="81" rx="58" ry="48" fill="#fff" fill-opacity="0.28"/><ellipse cx="81" cy="80" rx="34" ry="14" fill="#fff" fill-opacity="0.8"/><ellipse cx="57" cy="77" rx="16" ry="28" fill="#fff" fill-opacity="1.0"/><ellipse cx="104" cy="83" rx="15" ry="30" fill="#fff" fill-opacity="0.92"/></g><circle cx="817.8" cy="205.0" r="77.6" fill="none" stroke="#4a0000" stroke-opacity="0.5" stroke-width="1"/></g>
<rect x="823.9" y="264.6" width="62.1" height="8.4" fill="#fff"/>
<text x="751.5" y="152.9" font-size="25.5" fill="#fff">Sim.</text>
<g clip-path="url(#cl2)"><g filter="url(#hot9_5)" transform="translate(738.50,284.00)"><rect x="-20" y="-20" width="198.5" height="198.1" fill="#000"/><ellipse cx="80" cy="81" rx="58" ry="52" fill="#fff" fill-opacity="0.28"/><ellipse cx="80" cy="82" rx="18" ry="10" fill="#fff" fill-opacity="0.62"/><ellipse cx="52" cy="80" rx="12" ry="34" fill="#fff" fill-opacity="0.92"/><ellipse cx="104" cy="81" rx="13" ry="34" fill="#fff" fill-opacity="1.0"/></g><circle cx="817.8" cy="363.1" r="77.6" fill="none" stroke="#4a0000" stroke-opacity="0.5" stroke-width="1"/></g>
<rect x="823.9" y="429.6" width="62.1" height="8.2" fill="#fff"/>
<text x="751.5" y="311.0" font-size="25.5" fill="#fff">Exp.</text>
<line x1="739.5" y1="284.0" x2="897.0" y2="284.0" stroke="#2e2e2e" stroke-width="1.1"/>
<rect x="738.5" y="125.9" width="158.5" height="316.2" fill="none" stroke="#333" stroke-width="1"/>
<line x1="897.8" y1="864.0" x2="1216.3" y2="547.4" stroke="#7f7f7f" stroke-width="1.5"/>
<g><circle cx="1140.8" cy="573.5" r="5.0" fill="#faba39"/><circle cx="1135.4" cy="598.6" r="5.0" fill="#434eba"/><circle cx="1140.8" cy="601.2" r="5.0" fill="#4685fa"/><circle cx="1131.3" cy="606.2" r="5.0" fill="#434eba"/><circle cx="1141.8" cy="606.6" r="5.0" fill="#55fa76"/><circle cx="1130.7" cy="614.6" r="5.0" fill="#4685fa"/><circle cx="1159.4" cy="605.8" r="5.0" fill="#fb7e21"/><circle cx="1163.9" cy="608.2" r="5.0" fill="#7a0403"/><circle cx="1145.8" cy="619.2" r="5.0" fill="#faba39"/><circle cx="1134.8" cy="627.9" r="5.0" fill="#fb7e21"/><circle cx="1143.4" cy="647.9" r="5.0" fill="#fb7e21"/><circle cx="1136.8" cy="661.4" r="5.0" fill="#faba39"/><circle cx="1127.7" cy="668.4" r="5.0" fill="#faba39"/><circle cx="1104.7" cy="644.7" r="5.0" fill="#434eba"/><circle cx="1116.1" cy="641.9" r="5.0" fill="#30123b"/><circle cx="1116.7" cy="650.3" r="5.0" fill="#faba39"/><circle cx="1115.7" cy="656.3" r="5.0" fill="#434eba"/><circle cx="1122.7" cy="656.3" r="5.0" fill="#4685fa"/><circle cx="1107.3" cy="656.3" r="5.0" fill="#e4450a"/><circle cx="1097.6" cy="666.4" r="5.0" fill="#434eba"/><circle cx="1088.6" cy="669.4" r="5.0" fill="#28bceb"/><circle cx="1090.6" cy="670.4" r="5.0" fill="#a4fc3c"/><circle cx="1095.2" cy="674.8" r="5.0" fill="#b91e02"/><circle cx="1101.3" cy="686.4" r="5.0" fill="#e4450a"/><circle cx="1080.0" cy="672.8" r="5.0" fill="#e4450a"/><circle cx="1075.2" cy="661.4" r="5.0" fill="#d9e436"/><circle cx="1065.9" cy="657.3" r="5.0" fill="#b91e02"/><circle cx="1057.5" cy="662.4" r="5.0" fill="#d9e436"/><circle cx="1061.1" cy="666.8" r="5.0" fill="#b91e02"/><circle cx="1068.5" cy="669.4" r="5.0" fill="#1ae4b6"/><circle cx="1059.9" cy="675.4" r="5.0" fill="#1ae4b6"/><circle cx="1074.6" cy="679.4" r="5.0" fill="#d9e436"/><circle cx="1066.5" cy="683.4" r="5.0" fill="#28bceb"/><circle cx="1069.6" cy="683.4" r="5.0" fill="#d9e436"/><circle cx="1057.5" cy="684.4" r="5.0" fill="#a4fc3c"/><circle cx="1080.6" cy="685.4" r="5.0" fill="#1ae4b6"/><circle cx="1083.6" cy="688.4" r="5.0" fill="#28bceb"/><circle cx="1085.6" cy="688.4" r="5.0" fill="#b91e02"/><circle cx="1088.6" cy="697.5" r="5.0" fill="#a4fc3c"/><circle cx="1043.5" cy="687.8" r="5.0" fill="#28bceb"/><circle cx="1057.5" cy="691.5" r="5.0" fill="#d9e436"/><circle cx="1038.5" cy="696.5" r="5.0" fill="#b91e02"/><circle cx="1043.5" cy="697.5" r="5.0" fill="#d9e436"/><circle cx="1062.5" cy="700.5" r="5.0" fill="#30123b"/><circle cx="1071.6" cy="697.5" r="5.0" fill="#1ae4b6"/><circle cx="1074.6" cy="703.5" r="5.0" fill="#a4fc3c"/><circle cx="1052.5" cy="700.9" r="5.0" fill="#fb7e21"/><circle cx="1049.5" cy="706.5" r="5.0" fill="#1ae4b6"/><circle cx="1031.4" cy="703.5" r="5.0" fill="#55fa76"/><circle cx="1035.4" cy="705.5" r="5.0" fill="#b91e02"/><circle cx="1036.4" cy="709.5" r="5.0" fill="#e4450a"/><circle cx="1059.5" cy="710.1" r="5.0" fill="#faba39"/><circle cx="1067.5" cy="709.5" r="5.0" fill="#e4450a"/><circle cx="1073.6" cy="711.5" r="5.0" fill="#28bceb"/><circle cx="1043.5" cy="712.5" r="5.0" fill="#a4fc3c"/><circle cx="1039.5" cy="717.5" r="5.0" fill="#55fa76"/><circle cx="1081.6" cy="715.5" r="5.0" fill="#e4450a"/><circle cx="1025.4" cy="721.6" r="5.0" fill="#1ae4b6"/><circle cx="1044.5" cy="724.6" r="5.0" fill="#28bceb"/><circle cx="1053.5" cy="729.6" r="5.0" fill="#fb7e21"/><circle cx="1044.5" cy="737.6" r="5.0" fill="#a4fc3c"/><circle cx="1059.5" cy="737.6" r="5.0" fill="#a4fc3c"/><circle cx="1115.7" cy="736.2" r="5.0" fill="#7a0403"/><circle cx="1029.0" cy="679.4" r="5.0" fill="#e4450a"/><circle cx="1014.4" cy="691.5" r="5.0" fill="#7a0403"/><circle cx="1004.3" cy="712.1" r="5.0" fill="#b91e02"/><circle cx="1000.9" cy="718.1" r="5.0" fill="#7a0403"/><circle cx="1022.4" cy="732.2" r="5.0" fill="#b91e02"/><circle cx="1021.0" cy="737.6" r="5.0" fill="#7a0403"/><circle cx="1018.4" cy="747.6" r="5.0" fill="#4685fa"/><circle cx="1024.4" cy="749.6" r="5.0" fill="#30123b"/><circle cx="1024.4" cy="744.6" r="5.0" fill="#e4450a"/><circle cx="964.8" cy="744.2" r="5.0" fill="#7a0403"/><circle cx="944.2" cy="760.3" r="5.0" fill="#7a0403"/><circle cx="988.9" cy="757.7" r="5.0" fill="#fb7e21"/><circle cx="1008.4" cy="757.7" r="5.0" fill="#fb7e21"/><circle cx="981.3" cy="767.7" r="5.0" fill="#55fa76"/><circle cx="994.3" cy="769.7" r="5.0" fill="#30123b"/><circle cx="1002.3" cy="767.7" r="5.0" fill="#30123b"/><circle cx="1021.4" cy="765.7" r="5.0" fill="#4685fa"/><circle cx="995.3" cy="775.7" r="5.0" fill="#434eba"/><circle cx="1001.3" cy="782.8" r="5.0" fill="#4685fa"/><circle cx="995.3" cy="784.8" r="5.0" fill="#fb7e21"/><circle cx="964.2" cy="775.1" r="5.0" fill="#7a0403"/><circle cx="972.2" cy="779.7" r="5.0" fill="#55fa76"/><circle cx="968.2" cy="785.8" r="5.0" fill="#55fa76"/><circle cx="982.9" cy="801.8" r="5.0" fill="#faba39"/><circle cx="1063.1" cy="753.7" r="5.0" fill="#55fa76"/><circle cx="1063.9" cy="763.7" r="5.0" fill="#faba39"/></g>
<ellipse cx="1056.5" cy="704.0" rx="129.7" ry="33" transform="rotate(-42.96 1056.5 704.0)" fill="none" stroke="#000" stroke-width="1.7"/>
<rect x="897.8" y="547.4" width="318.5" height="316.6" fill="none" stroke="#2b2b2b" stroke-width="1.6"/>
<text x="1084.6" y="836.9" font-size="27" textLength="101.3" lengthAdjust="spacingAndGlyphs"><tspan font-style="italic">&#961;</tspan> = 0.87</text>
<g clip-path="url(#cl3)"><g filter="url(#hot9_5)" transform="translate(738.50,547.40)"><rect x="-20" y="-20" width="199.3" height="198.3" fill="#000"/><ellipse cx="75" cy="78" rx="52" ry="50" fill="#fff" fill-opacity="0.12"/><path d="M45,42 L79,74 L112,44" fill="none" stroke="#fff" stroke-opacity="0.44" stroke-width="30" stroke-linecap="round" stroke-linejoin="round"/><path d="M79,74 L42,110" fill="none" stroke="#fff" stroke-opacity="0.42" stroke-width="28" stroke-linecap="round" stroke-linejoin="round"/><ellipse cx="45" cy="42" rx="18" ry="18" fill="#fff" fill-opacity="0.56"/><ellipse cx="112" cy="45" rx="17" ry="17" fill="#fff" fill-opacity="0.48"/><ellipse cx="42" cy="110" rx="18" ry="17" fill="#fff" fill-opacity="0.45"/><ellipse cx="80" cy="73" rx="25" ry="20" transform="rotate(-45 80 73)" fill="#fff" fill-opacity="1.0"/></g><circle cx="818.1" cy="626.5" r="77.7" fill="none" stroke="#4a0000" stroke-opacity="0.5" stroke-width="1"/></g>
<rect x="823.9" y="683.1" width="62.1" height="8.5" fill="#fff"/>
<g clip-path="url(#cl4)"><g filter="url(#hot9_5)" transform="translate(738.50,705.70)"><rect x="-20" y="-20" width="199.3" height="198.3" fill="#000"/><ellipse cx="75" cy="80" rx="55" ry="52" fill="#fff" fill-opacity="0.12"/><ellipse cx="46" cy="48" rx="22" ry="19" fill="#fff" fill-opacity="0.32"/><path d="M114,55 L74,72 L52,110" fill="none" stroke="#fff" stroke-opacity="0.86" stroke-width="34" stroke-linecap="round" stroke-linejoin="round"/><ellipse cx="114" cy="55" rx="17" ry="16" fill="#fff" fill-opacity="1.0"/><ellipse cx="74" cy="72" rx="18" ry="18" fill="#fff" fill-opacity="0.9"/><ellipse cx="52" cy="110" rx="20" ry="17" fill="#fff" fill-opacity="0.93"/></g><circle cx="818.1" cy="784.9" r="77.7" fill="none" stroke="#4a0000" stroke-opacity="0.5" stroke-width="1"/></g>
<rect x="823.9" y="847.6" width="62.1" height="8.6" fill="#fff"/>
<line x1="739.5" y1="705.7" x2="897.8" y2="705.7" stroke="#2e2e2e" stroke-width="1.1"/>
<rect x="738.5" y="547.4" width="159.3" height="316.6" fill="none" stroke="#333" stroke-width="1"/>
<line x1="897.8" y1="1209.5" x2="1216.3" y2="894.4" stroke="#7f7f7f" stroke-width="1.5"/>
<g><circle cx="1155.8" cy="939.1" r="5.0" fill="#e4450a"/><circle cx="1159.8" cy="944.2" r="5.0" fill="#e4450a"/><circle cx="1153.8" cy="950.2" r="5.0" fill="#b91e02"/><circle cx="1155.8" cy="958.2" r="5.0" fill="#b91e02"/><circle cx="1131.8" cy="958.2" r="5.0" fill="#55fa76"/><circle cx="1134.8" cy="965.2" r="5.0" fill="#28bceb"/><circle cx="1131.3" cy="967.2" r="5.0" fill="#55fa76"/><circle cx="1115.7" cy="965.2" r="5.0" fill="#55fa76"/><circle cx="1113.7" cy="969.2" r="5.0" fill="#55fa76"/><circle cx="1129.7" cy="976.3" r="5.0" fill="#1ae4b6"/><circle cx="1131.8" cy="982.3" r="5.0" fill="#1ae4b6"/><circle cx="1133.4" cy="978.7" r="5.0" fill="#7a0403"/><circle cx="1112.1" cy="979.3" r="5.0" fill="#7a0403"/><circle cx="1117.7" cy="985.9" r="5.0" fill="#7a0403"/><circle cx="1083.6" cy="995.3" r="5.0" fill="#b91e02"/><circle cx="1107.7" cy="997.3" r="5.0" fill="#30123b"/><circle cx="1102.7" cy="1001.3" r="5.0" fill="#30123b"/><circle cx="1105.7" cy="999.3" r="5.0" fill="#30123b"/><circle cx="1071.6" cy="1005.4" r="5.0" fill="#1ae4b6"/><circle cx="1069.6" cy="1010.4" r="5.0" fill="#1ae4b6"/><circle cx="1125.7" cy="1009.4" r="5.0" fill="#fb7e21"/><circle cx="1081.6" cy="1019.4" r="5.0" fill="#b91e02"/><circle cx="1107.7" cy="1014.4" r="5.0" fill="#434eba"/><circle cx="1109.7" cy="1016.4" r="5.0" fill="#4685fa"/><circle cx="1097.6" cy="1020.0" r="5.0" fill="#4685fa"/><circle cx="1115.7" cy="1022.4" r="5.0" fill="#fb7e21"/><circle cx="1124.7" cy="1022.4" r="5.0" fill="#faba39"/><circle cx="1059.5" cy="1023.4" r="5.0" fill="#d9e436"/><circle cx="1055.5" cy="1030.4" r="5.0" fill="#fb7e21"/><circle cx="1068.5" cy="1028.4" r="5.0" fill="#fb7e21"/><circle cx="1081.6" cy="1032.0" r="5.0" fill="#fb7e21"/><circle cx="1038.5" cy="1038.5" r="5.0" fill="#faba39"/><circle cx="1057.5" cy="1038.5" r="5.0" fill="#d9e436"/><circle cx="1060.5" cy="1041.5" r="5.0" fill="#d9e436"/><circle cx="1069.6" cy="1038.1" r="5.0" fill="#7a0403"/><circle cx="1075.2" cy="1038.9" r="5.0" fill="#7a0403"/><circle cx="1034.4" cy="1046.5" r="5.0" fill="#fb7e21"/><circle cx="1045.5" cy="1048.5" r="5.0" fill="#434eba"/><circle cx="1041.5" cy="1049.5" r="5.0" fill="#28bceb"/><circle cx="1044.5" cy="1054.5" r="5.0" fill="#28bceb"/><circle cx="1042.5" cy="1056.5" r="5.0" fill="#4685fa"/><circle cx="1051.5" cy="1048.5" r="5.0" fill="#55fa76"/><circle cx="1055.5" cy="1052.5" r="5.0" fill="#d9e436"/><circle cx="1054.5" cy="1055.5" r="5.0" fill="#a4fc3c"/><circle cx="1067.5" cy="1049.5" r="5.0" fill="#e4450a"/><circle cx="1073.6" cy="1052.5" r="5.0" fill="#e4450a"/><circle cx="1029.4" cy="1053.5" r="5.0" fill="#e4450a"/><circle cx="1037.4" cy="1053.5" r="5.0" fill="#e4450a"/><circle cx="1063.1" cy="1055.5" r="5.0" fill="#7a0403"/><circle cx="1063.5" cy="1062.5" r="5.0" fill="#7a0403"/><circle cx="1070.6" cy="1062.5" r="5.0" fill="#faba39"/><circle cx="1027.4" cy="1060.1" r="5.0" fill="#faba39"/><circle cx="1052.5" cy="1066.6" r="5.0" fill="#a4fc3c"/><circle cx="1055.5" cy="1070.2" r="5.0" fill="#d9e436"/><circle cx="989.3" cy="1063.5" r="5.0" fill="#faba39"/><circle cx="995.3" cy="1070.6" r="5.0" fill="#faba39"/><circle cx="992.3" cy="1076.6" r="5.0" fill="#fb7e21"/><circle cx="988.9" cy="1083.6" r="5.0" fill="#fb7e21"/><circle cx="1007.4" cy="1084.6" r="5.0" fill="#4685fa"/><circle cx="1016.4" cy="1086.2" r="5.0" fill="#434eba"/><circle cx="1032.4" cy="1090.6" r="5.0" fill="#1ae4b6"/><circle cx="1058.5" cy="1094.6" r="5.0" fill="#d9e436"/><circle cx="1021.4" cy="1100.3" r="5.0" fill="#b91e02"/><circle cx="1038.5" cy="1101.7" r="5.0" fill="#1ae4b6"/><circle cx="1031.0" cy="1104.7" r="5.0" fill="#b91e02"/><circle cx="983.7" cy="1117.7" r="5.0" fill="#1ae4b6"/><circle cx="980.9" cy="1127.7" r="5.0" fill="#1ae4b6"/><circle cx="982.3" cy="1140.8" r="5.0" fill="#28bceb"/><circle cx="955.6" cy="1144.8" r="5.0" fill="#b91e02"/><circle cx="951.6" cy="1149.8" r="5.0" fill="#b91e02"/><circle cx="952.8" cy="1157.2" r="5.0" fill="#e4450a"/><circle cx="950.8" cy="1161.9" r="5.0" fill="#e4450a"/></g>
<ellipse cx="1057.5" cy="1051.1" rx="131.5" ry="23" transform="rotate(-43.95 1057.5 1051.1)" fill="none" stroke="#000" stroke-width="1.7"/>
<rect x="897.8" y="894.4" width="318.5" height="315.1" fill="none" stroke="#2b2b2b" stroke-width="1.6"/>
<text x="1084.6" y="1183.9" font-size="27" textLength="102.3" lengthAdjust="spacingAndGlyphs"><tspan font-style="italic">&#961;</tspan> = 0.93</text>
<g clip-path="url(#cl5)"><g filter="url(#hot9_5)" transform="translate(738.50,894.40)"><rect x="-20" y="-20" width="199.2" height="197.6" fill="#000"/><ellipse cx="78" cy="78" rx="66" ry="66" fill="#fff" fill-opacity="0.16"/><path d="M79,30 L80,125" fill="none" stroke="#fff" stroke-opacity="0.36" stroke-width="26" stroke-linecap="round" stroke-linejoin="round"/><path d="M29,78 L128,75" fill="none" stroke="#fff" stroke-opacity="0.36" stroke-width="26" stroke-linecap="round" stroke-linejoin="round"/><ellipse cx="79" cy="30" rx="20" ry="15" fill="#fff" fill-opacity="0.95"/><ellipse cx="29" cy="78" rx="15" ry="21" fill="#fff" fill-opacity="1.0"/><ellipse cx="128" cy="75" rx="15" ry="21" fill="#fff" fill-opacity="0.97"/><ellipse cx="80" cy="125" rx="19" ry="15" fill="#fff" fill-opacity="0.97"/></g><circle cx="818.1" cy="973.2" r="77.3" fill="none" stroke="#4a0000" stroke-opacity="0.5" stroke-width="1"/></g>
<rect x="823.9" y="1032.2" width="62.1" height="8.4" fill="#fff"/>
<g clip-path="url(#cl6)"><g filter="url(#hot9_5)" transform="translate(738.50,1051.95)"><rect x="-20" y="-20" width="199.2" height="197.6" fill="#000"/><ellipse cx="78" cy="78" rx="66" ry="66" fill="#fff" fill-opacity="0.15"/><path d="M72,25 L77,75 L80,128" fill="none" stroke="#fff" stroke-opacity="0.44" stroke-width="24" stroke-linecap="round" stroke-linejoin="round"/><path d="M25,79 L77,75 L130,72" fill="none" stroke="#fff" stroke-opacity="0.42" stroke-width="24" stroke-linecap="round" stroke-linejoin="round"/><ellipse cx="77" cy="75" rx="19" ry="20" fill="#fff" fill-opacity="0.9"/><ellipse cx="72" cy="25" rx="18" ry="14" fill="#fff" fill-opacity="0.95"/><ellipse cx="25" cy="79" rx="14" ry="20" fill="#fff" fill-opacity="0.95"/><ellipse cx="130" cy="72" rx="15" ry="21" fill="#fff" fill-opacity="1.0"/><ellipse cx="80" cy="128" rx="19" ry="14" fill="#fff" fill-opacity="0.95"/></g><circle cx="818.1" cy="1130.7" r="77.3" fill="none" stroke="#4a0000" stroke-opacity="0.5" stroke-width="1"/></g>
<rect x="823.9" y="1197.2" width="62.1" height="8.4" fill="#fff"/>
<line x1="739.5" y1="1052.0" x2="897.8" y2="1052.0" stroke="#2e2e2e" stroke-width="1.1"/>
<rect x="738.5" y="894.4" width="159.2" height="315.1" fill="none" stroke="#333" stroke-width="1"/>
<line x1="896.9" y1="1561.5" x2="1216.3" y2="1246.0" stroke="#7f7f7f" stroke-width="1.5"/>
<g><circle cx="1178.9" cy="1276.1" r="5.0" fill="#faba39"/><circle cx="1152.2" cy="1283.1" r="5.0" fill="#4685fa"/><circle cx="1161.8" cy="1285.5" r="5.0" fill="#434eba"/><circle cx="1129.7" cy="1298.8" r="5.0" fill="#4685fa"/><circle cx="1144.2" cy="1296.8" r="5.0" fill="#434eba"/><circle cx="1170.9" cy="1296.8" r="5.0" fill="#fb7e21"/><circle cx="1121.3" cy="1307.6" r="5.0" fill="#e4450a"/><circle cx="1140.2" cy="1313.2" r="5.0" fill="#b91e02"/><circle cx="1136.2" cy="1325.9" r="5.0" fill="#faba39"/><circle cx="1126.1" cy="1327.3" r="5.0" fill="#434eba"/><circle cx="1110.1" cy="1330.9" r="5.0" fill="#1ae4b6"/><circle cx="1107.7" cy="1332.3" r="5.0" fill="#28bceb"/><circle cx="1112.1" cy="1330.3" r="5.0" fill="#1ae4b6"/><circle cx="1127.7" cy="1335.3" r="5.0" fill="#b91e02"/><circle cx="1123.7" cy="1337.7" r="5.0" fill="#4685fa"/><circle cx="1123.3" cy="1341.7" r="5.0" fill="#e4450a"/><circle cx="1138.8" cy="1335.7" r="5.0" fill="#fb7e21"/><circle cx="1151.8" cy="1343.3" r="5.0" fill="#faba39"/><circle cx="1108.1" cy="1344.3" r="5.0" fill="#1ae4b6"/><circle cx="1111.7" cy="1347.7" r="5.0" fill="#28bceb"/><circle cx="1103.7" cy="1350.3" r="5.0" fill="#a4fc3c"/><circle cx="1096.6" cy="1357.4" r="5.0" fill="#d9e436"/><circle cx="1129.7" cy="1355.0" r="5.0" fill="#fb7e21"/><circle cx="1105.7" cy="1360.4" r="5.0" fill="#b91e02"/><circle cx="1101.7" cy="1365.4" r="5.0" fill="#55fa76"/><circle cx="1100.7" cy="1368.4" r="5.0" fill="#1ae4b6"/><circle cx="1091.6" cy="1368.4" r="5.0" fill="#a4fc3c"/><circle cx="1055.9" cy="1357.8" r="5.0" fill="#faba39"/><circle cx="1027.8" cy="1366.4" r="5.0" fill="#e4450a"/><circle cx="1047.5" cy="1368.4" r="5.0" fill="#d9e436"/><circle cx="1047.9" cy="1373.4" r="5.0" fill="#55fa76"/><circle cx="1062.5" cy="1369.4" r="5.0" fill="#fb7e21"/><circle cx="1080.6" cy="1370.4" r="5.0" fill="#4685fa"/><circle cx="1089.6" cy="1377.4" r="5.0" fill="#fb7e21"/><circle cx="1083.6" cy="1379.8" r="5.0" fill="#7a0403"/><circle cx="1053.5" cy="1378.4" r="5.0" fill="#7a0403"/><circle cx="1061.5" cy="1381.4" r="5.0" fill="#b91e02"/><circle cx="1065.5" cy="1381.4" r="5.0" fill="#a4fc3c"/><circle cx="1067.5" cy="1383.4" r="5.0" fill="#d9e436"/><circle cx="1007.4" cy="1387.5" r="5.0" fill="#7a0403"/><circle cx="1035.0" cy="1383.4" r="5.0" fill="#28bceb"/><circle cx="1055.5" cy="1387.5" r="5.0" fill="#b91e02"/><circle cx="1063.5" cy="1387.5" r="5.0" fill="#55fa76"/><circle cx="1069.6" cy="1389.5" r="5.0" fill="#30123b"/><circle cx="1071.6" cy="1390.5" r="5.0" fill="#a4fc3c"/><circle cx="1094.6" cy="1387.9" r="5.0" fill="#28bceb"/><circle cx="1106.7" cy="1392.5" r="5.0" fill="#e4450a"/><circle cx="1105.7" cy="1395.9" r="5.0" fill="#7a0403"/><circle cx="1028.4" cy="1392.5" r="5.0" fill="#faba39"/><circle cx="1023.4" cy="1397.5" r="5.0" fill="#55fa76"/><circle cx="1061.5" cy="1393.5" r="5.0" fill="#30123b"/><circle cx="1065.5" cy="1394.5" r="5.0" fill="#28bceb"/><circle cx="1076.6" cy="1394.5" r="5.0" fill="#55fa76"/><circle cx="1075.6" cy="1400.5" r="5.0" fill="#28bceb"/><circle cx="1075.6" cy="1405.5" r="5.0" fill="#4685fa"/><circle cx="1047.1" cy="1395.9" r="5.0" fill="#e4450a"/><circle cx="1033.4" cy="1400.5" r="5.0" fill="#434eba"/><circle cx="1037.4" cy="1401.5" r="5.0" fill="#30123b"/><circle cx="1057.5" cy="1401.5" r="5.0" fill="#4685fa"/><circle cx="1049.5" cy="1401.5" r="5.0" fill="#d9e436"/><circle cx="1053.5" cy="1404.5" r="5.0" fill="#e4450a"/><circle cx="1057.5" cy="1407.5" r="5.0" fill="#e4450a"/><circle cx="1066.5" cy="1404.5" r="5.0" fill="#a4fc3c"/><circle cx="1087.6" cy="1402.5" r="5.0" fill="#e4450a"/><circle cx="1011.0" cy="1416.5" r="5.0" fill="#7a0403"/><circle cx="1025.8" cy="1417.2" r="5.0" fill="#faba39"/><circle cx="1041.5" cy="1418.6" r="5.0" fill="#d9e436"/><circle cx="1046.5" cy="1418.0" r="5.0" fill="#7a0403"/><circle cx="1044.5" cy="1422.6" r="5.0" fill="#d9e436"/><circle cx="1061.5" cy="1415.1" r="5.0" fill="#d9e436"/><circle cx="1059.5" cy="1421.6" r="5.0" fill="#30123b"/><circle cx="1067.5" cy="1421.6" r="5.0" fill="#b91e02"/><circle cx="1071.6" cy="1421.6" r="5.0" fill="#1ae4b6"/><circle cx="1053.5" cy="1423.6" r="5.0" fill="#a4fc3c"/><circle cx="1052.5" cy="1426.6" r="5.0" fill="#55fa76"/><circle cx="1083.2" cy="1425.2" r="5.0" fill="#b91e02"/><circle cx="1091.6" cy="1420.6" r="5.0" fill="#fb7e21"/><circle cx="1013.0" cy="1426.0" r="5.0" fill="#b91e02"/><circle cx="1023.0" cy="1424.6" r="5.0" fill="#1ae4b6"/><circle cx="1016.4" cy="1434.6" r="5.0" fill="#28bceb"/><circle cx="1010.4" cy="1437.6" r="5.0" fill="#e4450a"/><circle cx="1056.5" cy="1434.6" r="5.0" fill="#1ae4b6"/><circle cx="1035.0" cy="1439.2" r="5.0" fill="#434eba"/><circle cx="997.3" cy="1445.6" r="5.0" fill="#faba39"/><circle cx="1001.7" cy="1443.6" r="5.0" fill="#fb7e21"/><circle cx="1012.4" cy="1451.7" r="5.0" fill="#55fa76"/><circle cx="999.3" cy="1454.7" r="5.0" fill="#434eba"/><circle cx="1001.3" cy="1456.7" r="5.0" fill="#4685fa"/><circle cx="1005.3" cy="1462.1" r="5.0" fill="#30123b"/><circle cx="978.9" cy="1482.8" r="5.0" fill="#55fa76"/><circle cx="983.3" cy="1487.8" r="5.0" fill="#55fa76"/><circle cx="932.1" cy="1500.8" r="5.0" fill="#7a0403"/><circle cx="927.5" cy="1526.9" r="5.0" fill="#7a0403"/></g>
<ellipse cx="1056.0" cy="1402.3" rx="128.9" ry="27" transform="rotate(-43.71 1056.0 1402.3)" fill="none" stroke="#000" stroke-width="1.7"/>
<rect x="896.9" y="1246.0" width="319.4" height="315.5" fill="none" stroke="#2b2b2b" stroke-width="1.6"/>
<text x="1087.6" y="1533.9" font-size="27" textLength="102.3" lengthAdjust="spacingAndGlyphs"><tspan font-style="italic">&#961;</tspan> = 0.89</text>
<g clip-path="url(#cl7)"><g filter="url(#hot9)" transform="translate(738.50,1246.00)"><rect x="-20" y="-20" width="198.4" height="197.8" fill="#000"/><ellipse cx="80" cy="80" rx="60" ry="58" fill="#fff" fill-opacity="0.12"/><ellipse cx="88" cy="50" rx="20" ry="8" fill="#fff" fill-opacity="0.4"/><ellipse cx="62" cy="104" rx="24" ry="9" fill="#fff" fill-opacity="0.25"/><path d="M100,29 L56,28" fill="none" stroke="#fff" stroke-opacity="0.92" stroke-width="22" stroke-linecap="round" stroke-linejoin="round"/><path d="M50,34 L48,50 L52,64" fill="none" stroke="#fff" stroke-opacity="0.66" stroke-width="19" stroke-linecap="round" stroke-linejoin="round"/><path d="M52,70 L105,80" fill="none" stroke="#fff" stroke-opacity="0.92" stroke-width="23" stroke-linecap="round" stroke-linejoin="round"/><path d="M112,88 L113,102 L108,120" fill="none" stroke="#fff" stroke-opacity="0.86" stroke-width="21" stroke-linecap="round" stroke-linejoin="round"/><path d="M102,127 L56,129" fill="none" stroke="#fff" stroke-opacity="0.88" stroke-width="22" stroke-linecap="round" stroke-linejoin="round"/><ellipse cx="75" cy="28" rx="24" ry="10" fill="#fff" fill-opacity="1.0"/><ellipse cx="100" cy="81" rx="16" ry="10" transform="rotate(10 100 81)" fill="#fff" fill-opacity="1.0"/></g><circle cx="817.7" cy="1324.9" r="77.4" fill="none" stroke="#4a0000" stroke-opacity="0.5" stroke-width="1"/></g>
<rect x="823.9" y="1384.2" width="62.1" height="8.4" fill="#fff"/>
<g clip-path="url(#cl8)"><g filter="url(#hot9_5)" transform="translate(738.50,1403.75)"><rect x="-20" y="-20" width="198.4" height="197.8" fill="#000"/><ellipse cx="78" cy="82" rx="58" ry="58" fill="#fff" fill-opacity="0.18"/><ellipse cx="62" cy="70" rx="22" ry="22" fill="#fff" fill-opacity="0.42"/><path d="M40,60 L38,100 L48,125" fill="none" stroke="#fff" stroke-opacity="0.35" stroke-width="18" stroke-linecap="round" stroke-linejoin="round"/><path d="M50,128 L108,126" fill="none" stroke="#fff" stroke-opacity="0.72" stroke-width="22" stroke-linecap="round" stroke-linejoin="round"/><path d="M108,82 L112,120" fill="none" stroke="#fff" stroke-opacity="0.5" stroke-width="16" stroke-linecap="round" stroke-linejoin="round"/><ellipse cx="106" cy="80" rx="17" ry="15" fill="#fff" fill-opacity="0.95"/><ellipse cx="64" cy="29" rx="27" ry="14" transform="rotate(-12 64 29)" fill="#fff" fill-opacity="1.0"/><ellipse cx="76" cy="105" rx="14" ry="11" fill="#000" fill-opacity="0.5"/></g><circle cx="817.7" cy="1482.6" r="77.4" fill="none" stroke="#4a0000" stroke-opacity="0.5" stroke-width="1"/></g>
<rect x="823.9" y="1549.2" width="62.1" height="8.5" fill="#fff"/>
<line x1="739.5" y1="1403.8" x2="896.9" y2="1403.8" stroke="#2e2e2e" stroke-width="1.1"/>
<rect x="738.5" y="1246.0" width="158.4" height="315.5" fill="none" stroke="#333" stroke-width="1"/>
<line x1="1504.2" y1="440.4" x2="1822.0" y2="125.9" stroke="#7f7f7f" stroke-width="1.5"/>
<g><circle cx="1753.8" cy="163.1" r="5.0" fill="#faba39"/><circle cx="1748.8" cy="167.1" r="5.0" fill="#434eba"/><circle cx="1746.8" cy="170.1" r="5.0" fill="#434eba"/><circle cx="1743.8" cy="174.2" r="5.0" fill="#4685fa"/><circle cx="1744.8" cy="177.2" r="5.0" fill="#434eba"/><circle cx="1751.8" cy="179.2" r="5.0" fill="#434eba"/><circle cx="1748.8" cy="184.2" r="5.0" fill="#4685fa"/><circle cx="1756.8" cy="186.2" r="5.0" fill="#fb7e21"/><circle cx="1763.8" cy="180.2" r="5.0" fill="#faba39"/><circle cx="1767.8" cy="186.2" r="5.0" fill="#faba39"/><circle cx="1775.9" cy="189.2" r="5.0" fill="#faba39"/><circle cx="1773.9" cy="194.2" r="5.0" fill="#fb7e21"/><circle cx="1779.5" cy="211.9" r="5.0" fill="#7a0403"/><circle cx="1774.9" cy="219.9" r="5.0" fill="#7a0403"/><circle cx="1750.2" cy="208.3" r="5.0" fill="#55fa76"/><circle cx="1749.8" cy="216.3" r="5.0" fill="#55fa76"/><circle cx="1710.7" cy="240.4" r="5.0" fill="#30123b"/><circle cx="1714.7" cy="243.4" r="5.0" fill="#30123b"/><circle cx="1692.6" cy="246.4" r="5.0" fill="#d9e436"/><circle cx="1696.6" cy="247.4" r="5.0" fill="#55fa76"/><circle cx="1691.6" cy="253.4" r="5.0" fill="#d9e436"/><circle cx="1693.6" cy="261.4" r="5.0" fill="#d9e436"/><circle cx="1695.6" cy="250.4" r="5.0" fill="#d9e436"/><circle cx="1678.0" cy="247.0" r="5.0" fill="#7a0403"/><circle cx="1653.1" cy="252.0" r="5.0" fill="#fb7e21"/><circle cx="1666.5" cy="258.4" r="5.0" fill="#faba39"/><circle cx="1659.5" cy="258.4" r="5.0" fill="#1ae4b6"/><circle cx="1651.5" cy="260.0" r="5.0" fill="#b91e02"/><circle cx="1656.5" cy="264.4" r="5.0" fill="#b91e02"/><circle cx="1668.5" cy="266.4" r="5.0" fill="#e4450a"/><circle cx="1657.5" cy="270.5" r="5.0" fill="#b91e02"/><circle cx="1673.5" cy="272.5" r="5.0" fill="#1ae4b6"/><circle cx="1677.6" cy="276.5" r="5.0" fill="#30123b"/><circle cx="1673.5" cy="278.5" r="5.0" fill="#1ae4b6"/><circle cx="1645.5" cy="282.5" r="5.0" fill="#e4450a"/><circle cx="1665.5" cy="284.5" r="5.0" fill="#faba39"/><circle cx="1654.5" cy="282.1" r="5.0" fill="#7a0403"/><circle cx="1644.5" cy="286.5" r="5.0" fill="#e4450a"/><circle cx="1651.5" cy="287.5" r="5.0" fill="#28bceb"/><circle cx="1635.4" cy="292.5" r="5.0" fill="#a4fc3c"/><circle cx="1647.5" cy="293.5" r="5.0" fill="#e4450a"/><circle cx="1657.5" cy="293.5" r="5.0" fill="#30123b"/><circle cx="1669.5" cy="290.5" r="5.0" fill="#b91e02"/><circle cx="1673.5" cy="288.5" r="5.0" fill="#e4450a"/><circle cx="1679.6" cy="290.5" r="5.0" fill="#1ae4b6"/><circle cx="1684.6" cy="292.5" r="5.0" fill="#b91e02"/><circle cx="1643.4" cy="301.6" r="5.0" fill="#7a0403"/><circle cx="1654.5" cy="300.6" r="5.0" fill="#55fa76"/><circle cx="1663.5" cy="299.6" r="5.0" fill="#fb7e21"/><circle cx="1673.5" cy="302.6" r="5.0" fill="#fb7e21"/><circle cx="1680.6" cy="298.2" r="5.0" fill="#b91e02"/><circle cx="1670.5" cy="311.6" r="5.0" fill="#4685fa"/><circle cx="1671.5" cy="308.6" r="5.0" fill="#7a0403"/><circle cx="1618.4" cy="322.6" r="5.0" fill="#30123b"/><circle cx="1629.4" cy="326.2" r="5.0" fill="#30123b"/><circle cx="1637.0" cy="327.6" r="5.0" fill="#a4fc3c"/><circle cx="1564.2" cy="349.7" r="5.0" fill="#fb7e21"/><circle cx="1552.8" cy="354.7" r="5.0" fill="#7a0403"/><circle cx="1554.8" cy="361.8" r="5.0" fill="#fb7e21"/><circle cx="1553.2" cy="365.8" r="5.0" fill="#7a0403"/><circle cx="1582.3" cy="358.7" r="5.0" fill="#55fa76"/><circle cx="1590.3" cy="360.3" r="5.0" fill="#55fa76"/><circle cx="1576.2" cy="396.9" r="5.0" fill="#4685fa"/><circle cx="1583.3" cy="394.9" r="5.0" fill="#4685fa"/></g>
<ellipse cx="1664.5" cy="284.3" rx="129.3" ry="25.5" transform="rotate(-44.43 1664.5 284.3)" fill="none" stroke="#000" stroke-width="1.7"/>
<rect x="1504.2" y="125.9" width="317.8" height="314.5" fill="none" stroke="#2b2b2b" stroke-width="1.6"/>
<text x="1692.6" y="414.9" font-size="27" textLength="101.3" lengthAdjust="spacingAndGlyphs"><tspan font-style="italic">&#961;</tspan> = 0.92</text>
<g clip-path="url(#cl9)"><g filter="url(#hot10)" transform="translate(1345.50,125.90)"><rect x="-20" y="-20" width="198.7" height="197.2" fill="#000"/><ellipse cx="78" cy="79" rx="56" ry="56" fill="#fff" fill-opacity="0.3"/><ellipse cx="40" cy="42" rx="18" ry="18" fill="#fff" fill-opacity="0.36"/><ellipse cx="117" cy="42" rx="18" ry="18" fill="#fff" fill-opacity="0.34"/><ellipse cx="45" cy="113" rx="18" ry="18" fill="#fff" fill-opacity="0.38"/><ellipse cx="113" cy="116" rx="18" ry="18" fill="#fff" fill-opacity="0.38"/><ellipse cx="77" cy="84" rx="24" ry="24" fill="#fff" fill-opacity="1.0"/></g><circle cx="1424.8" cy="204.5" r="77.1" fill="none" stroke="#4a0000" stroke-opacity="0.5" stroke-width="1"/></g>
<rect x="1432.8" y="262.1" width="62.2" height="8.5" fill="#fff"/>
<g clip-path="url(#cl10)"><g filter="url(#hot9_5)" transform="translate(1345.50,283.15)"><rect x="-20" y="-20" width="198.7" height="197.2" fill="#000"/><ellipse cx="77" cy="76" rx="60" ry="60" fill="#fff" fill-opacity="0.28"/><ellipse cx="54" cy="53" rx="35" ry="14" transform="rotate(45 54 53)" fill="#fff" fill-opacity="0.9"/><ellipse cx="101" cy="53" rx="35" ry="14" transform="rotate(-45 101 53)" fill="#fff" fill-opacity="0.9"/><ellipse cx="54" cy="99" rx="35" ry="14" transform="rotate(-45 54 99)" fill="#fff" fill-opacity="0.9"/><ellipse cx="101" cy="99" rx="35" ry="14" transform="rotate(45 101 99)" fill="#fff" fill-opacity="0.9"/><ellipse cx="77" cy="76" rx="24" ry="24" fill="#fff" fill-opacity="1.0"/></g><circle cx="1424.8" cy="361.8" r="77.1" fill="none" stroke="#4a0000" stroke-opacity="0.5" stroke-width="1"/></g>
<rect x="1432.8" y="426.8" width="62.2" height="8.4" fill="#fff"/>
<line x1="1346.5" y1="283.1" x2="1504.2" y2="283.1" stroke="#2e2e2e" stroke-width="1.1"/>
<rect x="1345.5" y="125.9" width="158.7" height="314.5" fill="none" stroke="#333" stroke-width="1"/>
<line x1="1504.9" y1="861.1" x2="1822.0" y2="546.5" stroke="#7f7f7f" stroke-width="1.5"/>
<g><circle cx="1766.8" cy="578.7" r="5.0" fill="#30123b"/><circle cx="1739.8" cy="590.5" r="5.0" fill="#30123b"/><circle cx="1743.8" cy="592.1" r="5.0" fill="#55fa76"/><circle cx="1763.8" cy="599.2" r="5.0" fill="#30123b"/><circle cx="1766.8" cy="595.8" r="5.0" fill="#30123b"/><circle cx="1761.8" cy="589.1" r="5.0" fill="#55fa76"/><circle cx="1764.8" cy="587.1" r="5.0" fill="#55fa76"/><circle cx="1702.6" cy="610.6" r="5.0" fill="#fb7e21"/><circle cx="1732.7" cy="614.2" r="5.0" fill="#7a0403"/><circle cx="1738.2" cy="626.3" r="5.0" fill="#7a0403"/><circle cx="1725.3" cy="631.3" r="5.0" fill="#7a0403"/><circle cx="1770.9" cy="630.9" r="5.0" fill="#faba39"/><circle cx="1711.7" cy="639.3" r="5.0" fill="#434eba"/><circle cx="1725.3" cy="641.3" r="5.0" fill="#fb7e21"/><circle cx="1737.8" cy="638.3" r="5.0" fill="#4685fa"/><circle cx="1737.8" cy="640.7" r="5.0" fill="#434eba"/><circle cx="1734.7" cy="639.3" r="5.0" fill="#7a0403"/><circle cx="1694.6" cy="645.3" r="5.0" fill="#b91e02"/><circle cx="1721.3" cy="651.3" r="5.0" fill="#434eba"/><circle cx="1675.2" cy="654.9" r="5.0" fill="#fb7e21"/><circle cx="1696.6" cy="655.3" r="5.0" fill="#4685fa"/><circle cx="1697.6" cy="658.4" r="5.0" fill="#434eba"/><circle cx="1675.6" cy="660.8" r="5.0" fill="#1ae4b6"/><circle cx="1703.6" cy="664.0" r="5.0" fill="#4685fa"/><circle cx="1737.8" cy="659.4" r="5.0" fill="#fb7e21"/><circle cx="1746.2" cy="658.8" r="5.0" fill="#faba39"/><circle cx="1672.5" cy="668.4" r="5.0" fill="#4685fa"/><circle cx="1665.5" cy="670.4" r="5.0" fill="#a4fc3c"/><circle cx="1669.5" cy="671.4" r="5.0" fill="#a4fc3c"/><circle cx="1687.6" cy="670.4" r="5.0" fill="#e4450a"/><circle cx="1688.6" cy="672.0" r="5.0" fill="#7a0403"/><circle cx="1694.6" cy="674.0" r="5.0" fill="#4685fa"/><circle cx="1625.0" cy="676.8" r="5.0" fill="#b91e02"/><circle cx="1801.0" cy="672.0" r="5.0" fill="#fb7e21"/><circle cx="1798.9" cy="677.4" r="5.0" fill="#faba39"/><circle cx="1682.6" cy="680.8" r="5.0" fill="#28bceb"/><circle cx="1686.6" cy="677.4" r="5.0" fill="#4685fa"/><circle cx="1711.7" cy="683.4" r="5.0" fill="#e4450a"/><circle cx="1727.7" cy="684.4" r="5.0" fill="#faba39"/><circle cx="1653.5" cy="684.4" r="5.0" fill="#55fa76"/><circle cx="1661.5" cy="689.5" r="5.0" fill="#d9e436"/><circle cx="1665.5" cy="687.5" r="5.0" fill="#d9e436"/><circle cx="1675.6" cy="689.5" r="5.0" fill="#28bceb"/><circle cx="1671.5" cy="691.5" r="5.0" fill="#1ae4b6"/><circle cx="1659.5" cy="695.5" r="5.0" fill="#d9e436"/><circle cx="1663.5" cy="693.5" r="5.0" fill="#d9e436"/><circle cx="1657.5" cy="698.5" r="5.0" fill="#d9e436"/><circle cx="1637.0" cy="694.5" r="5.0" fill="#7a0403"/><circle cx="1647.5" cy="703.5" r="5.0" fill="#1ae4b6"/><circle cx="1633.4" cy="707.5" r="5.0" fill="#b91e02"/><circle cx="1615.4" cy="709.5" r="5.0" fill="#faba39"/><circle cx="1610.3" cy="716.5" r="5.0" fill="#faba39"/><circle cx="1594.3" cy="715.5" r="5.0" fill="#b91e02"/><circle cx="1647.5" cy="709.5" r="5.0" fill="#b91e02"/><circle cx="1651.5" cy="712.5" r="5.0" fill="#7a0403"/><circle cx="1652.5" cy="717.5" r="5.0" fill="#7a0403"/><circle cx="1673.5" cy="704.5" r="5.0" fill="#b91e02"/><circle cx="1675.6" cy="710.5" r="5.0" fill="#b91e02"/><circle cx="1662.5" cy="712.9" r="5.0" fill="#e4450a"/><circle cx="1696.0" cy="713.5" r="5.0" fill="#e4450a"/><circle cx="1718.1" cy="716.5" r="5.0" fill="#fb7e21"/><circle cx="1620.4" cy="719.6" r="5.0" fill="#e4450a"/><circle cx="1635.4" cy="723.6" r="5.0" fill="#1ae4b6"/><circle cx="1661.5" cy="720.6" r="5.0" fill="#a4fc3c"/><circle cx="1667.1" cy="724.6" r="5.0" fill="#a4fc3c"/><circle cx="1649.5" cy="726.6" r="5.0" fill="#faba39"/><circle cx="1652.5" cy="728.6" r="5.0" fill="#28bceb"/><circle cx="1644.5" cy="731.6" r="5.0" fill="#e4450a"/><circle cx="1617.0" cy="734.2" r="5.0" fill="#b91e02"/><circle cx="1629.8" cy="734.6" r="5.0" fill="#e4450a"/><circle cx="1652.5" cy="738.2" r="5.0" fill="#28bceb"/><circle cx="1657.5" cy="736.6" r="5.0" fill="#d9e436"/><circle cx="1660.5" cy="741.6" r="5.0" fill="#d9e436"/><circle cx="1613.0" cy="747.6" r="5.0" fill="#e4450a"/><circle cx="1633.0" cy="746.6" r="5.0" fill="#434eba"/><circle cx="1637.0" cy="756.3" r="5.0" fill="#434eba"/><circle cx="1638.4" cy="753.7" r="5.0" fill="#4685fa"/><circle cx="1623.4" cy="762.7" r="5.0" fill="#fb7e21"/><circle cx="1633.8" cy="765.7" r="5.0" fill="#434eba"/><circle cx="1572.8" cy="772.1" r="5.0" fill="#fb7e21"/><circle cx="1613.4" cy="774.7" r="5.0" fill="#4685fa"/><circle cx="1614.0" cy="797.8" r="5.0" fill="#faba39"/></g>
<ellipse cx="1663.4" cy="706.2" rx="124.1" ry="32" transform="rotate(-42.31 1663.4 706.2)" fill="none" stroke="#000" stroke-width="1.7"/>
<rect x="1504.9" y="546.5" width="317.1" height="314.6" fill="none" stroke="#2b2b2b" stroke-width="1.6"/>
<text x="1692.6" y="839.9" font-size="27" textLength="101.3" lengthAdjust="spacingAndGlyphs"><tspan font-style="italic">&#961;</tspan> = 0.82</text>
<g clip-path="url(#cl11)"><g filter="url(#hot9_5)" transform="translate(1345.50,546.50)"><rect x="-20" y="-20" width="199.4" height="197.3" fill="#000"/><ellipse cx="78" cy="98" rx="42" ry="36" fill="#fff" fill-opacity="0.18"/><ellipse cx="112" cy="45" rx="18" ry="17" fill="#fff" fill-opacity="0.28"/><ellipse cx="58" cy="76" rx="27" ry="19" transform="rotate(45 58 76)" fill="#fff" fill-opacity="1.0"/></g><circle cx="1425.2" cy="625.1" r="77.2" fill="none" stroke="#4a0000" stroke-opacity="0.5" stroke-width="1"/></g>
<rect x="1432.8" y="679.9" width="62.2" height="8.3" fill="#fff"/>
<g clip-path="url(#cl12)"><g filter="url(#hot9_5)" transform="translate(1345.50,703.80)"><rect x="-20" y="-20" width="199.4" height="197.3" fill="#000"/><ellipse cx="70" cy="80" rx="48" ry="48" fill="#fff" fill-opacity="0.12"/><path d="M68,75 L115,50" fill="none" stroke="#fff" stroke-opacity="0.33" stroke-width="26" stroke-linecap="round" stroke-linejoin="round"/><ellipse cx="115" cy="50" rx="15" ry="14" fill="#fff" fill-opacity="0.3"/><path d="M68,82 L70,112 L92,124 L122,116" fill="none" stroke="#fff" stroke-opacity="0.2" stroke-width="24" stroke-linecap="round" stroke-linejoin="round"/><ellipse cx="68" cy="75" rx="21" ry="20" fill="#fff" fill-opacity="1.0"/></g><circle cx="1425.2" cy="782.4" r="77.2" fill="none" stroke="#4a0000" stroke-opacity="0.5" stroke-width="1"/></g>
<rect x="1432.8" y="845.2" width="62.2" height="8.4" fill="#fff"/>
<line x1="1346.5" y1="703.8" x2="1504.9" y2="703.8" stroke="#2e2e2e" stroke-width="1.1"/>
<rect x="1345.5" y="546.5" width="159.4" height="314.6" fill="none" stroke="#333" stroke-width="1"/>
<line x1="1504.9" y1="1207.9" x2="1822.0" y2="893.4" stroke="#7f7f7f" stroke-width="1.5"/>
<g><circle cx="1781.5" cy="910.1" r="5.0" fill="#30123b"/><circle cx="1781.5" cy="916.7" r="5.0" fill="#55fa76"/><circle cx="1811.6" cy="919.5" r="5.0" fill="#faba39"/><circle cx="1749.4" cy="929.5" r="5.0" fill="#434eba"/><circle cx="1769.9" cy="931.5" r="5.0" fill="#30123b"/><circle cx="1781.9" cy="934.1" r="5.0" fill="#55fa76"/><circle cx="1809.6" cy="943.2" r="5.0" fill="#fb7e21"/><circle cx="1768.9" cy="943.2" r="5.0" fill="#7a0403"/><circle cx="1736.1" cy="946.2" r="5.0" fill="#faba39"/><circle cx="1751.8" cy="951.2" r="5.0" fill="#4685fa"/><circle cx="1741.8" cy="968.2" r="5.0" fill="#55fa76"/><circle cx="1785.5" cy="974.3" r="5.0" fill="#7a0403"/><circle cx="1756.2" cy="990.7" r="5.0" fill="#7a0403"/><circle cx="1709.7" cy="984.9" r="5.0" fill="#434eba"/><circle cx="1717.3" cy="989.7" r="5.0" fill="#faba39"/><circle cx="1702.6" cy="998.9" r="5.0" fill="#434eba"/><circle cx="1714.7" cy="1002.3" r="5.0" fill="#30123b"/><circle cx="1705.6" cy="1004.4" r="5.0" fill="#faba39"/><circle cx="1690.6" cy="1005.0" r="5.0" fill="#434eba"/><circle cx="1677.6" cy="1007.0" r="5.0" fill="#b91e02"/><circle cx="1680.6" cy="1011.0" r="5.0" fill="#d9e436"/><circle cx="1693.6" cy="1011.4" r="5.0" fill="#4685fa"/><circle cx="1698.6" cy="1009.4" r="5.0" fill="#4685fa"/><circle cx="1713.7" cy="1019.0" r="5.0" fill="#faba39"/><circle cx="1669.5" cy="1023.0" r="5.0" fill="#1ae4b6"/><circle cx="1684.6" cy="1025.4" r="5.0" fill="#1ae4b6"/><circle cx="1691.6" cy="1021.4" r="5.0" fill="#e4450a"/><circle cx="1697.2" cy="1024.4" r="5.0" fill="#7a0403"/><circle cx="1672.5" cy="1027.0" r="5.0" fill="#fb7e21"/><circle cx="1651.5" cy="1026.4" r="5.0" fill="#a4fc3c"/><circle cx="1690.6" cy="1033.0" r="5.0" fill="#e4450a"/><circle cx="1701.6" cy="1035.9" r="5.0" fill="#b91e02"/><circle cx="1722.7" cy="1031.4" r="5.0" fill="#fb7e21"/><circle cx="1668.5" cy="1035.5" r="5.0" fill="#d9e436"/><circle cx="1650.5" cy="1037.1" r="5.0" fill="#b91e02"/><circle cx="1653.1" cy="1041.1" r="5.0" fill="#b91e02"/><circle cx="1655.5" cy="1043.5" r="5.0" fill="#7a0403"/><circle cx="1677.6" cy="1042.5" r="5.0" fill="#1ae4b6"/><circle cx="1685.6" cy="1043.1" r="5.0" fill="#55fa76"/><circle cx="1679.6" cy="1048.5" r="5.0" fill="#4685fa"/><circle cx="1710.7" cy="1043.5" r="5.0" fill="#fb7e21"/><circle cx="1661.5" cy="1045.5" r="5.0" fill="#28bceb"/><circle cx="1667.5" cy="1049.5" r="5.0" fill="#d9e436"/><circle cx="1664.5" cy="1052.5" r="5.0" fill="#b91e02"/><circle cx="1671.5" cy="1054.5" r="5.0" fill="#faba39"/><circle cx="1640.4" cy="1054.5" r="5.0" fill="#e4450a"/><circle cx="1655.5" cy="1055.5" r="5.0" fill="#a4fc3c"/><circle cx="1661.5" cy="1056.5" r="5.0" fill="#1ae4b6"/><circle cx="1678.6" cy="1059.1" r="5.0" fill="#a4fc3c"/><circle cx="1643.4" cy="1059.1" r="5.0" fill="#b91e02"/><circle cx="1642.4" cy="1060.5" r="5.0" fill="#7a0403"/><circle cx="1651.5" cy="1062.5" r="5.0" fill="#d9e436"/><circle cx="1639.4" cy="1067.6" r="5.0" fill="#1ae4b6"/><circle cx="1666.5" cy="1067.6" r="5.0" fill="#1ae4b6"/><circle cx="1663.5" cy="1069.6" r="5.0" fill="#28bceb"/><circle cx="1647.5" cy="1069.6" r="5.0" fill="#a4fc3c"/><circle cx="1685.2" cy="1068.0" r="5.0" fill="#e4450a"/><circle cx="1704.6" cy="1066.6" r="5.0" fill="#e4450a"/><circle cx="1600.3" cy="1074.6" r="5.0" fill="#fb7e21"/><circle cx="1623.0" cy="1076.6" r="5.0" fill="#faba39"/><circle cx="1612.3" cy="1079.6" r="5.0" fill="#7a0403"/><circle cx="1624.4" cy="1081.6" r="5.0" fill="#b91e02"/><circle cx="1633.4" cy="1082.6" r="5.0" fill="#4685fa"/><circle cx="1625.4" cy="1085.2" r="5.0" fill="#4685fa"/><circle cx="1640.4" cy="1078.6" r="5.0" fill="#28bceb"/><circle cx="1641.0" cy="1084.6" r="5.0" fill="#434eba"/><circle cx="1655.5" cy="1074.6" r="5.0" fill="#a4fc3c"/><circle cx="1660.5" cy="1076.6" r="5.0" fill="#d9e436"/><circle cx="1665.5" cy="1083.6" r="5.0" fill="#a4fc3c"/><circle cx="1679.6" cy="1080.6" r="5.0" fill="#b91e02"/><circle cx="1652.5" cy="1092.6" r="5.0" fill="#fb7e21"/><circle cx="1604.9" cy="1098.7" r="5.0" fill="#e4450a"/><circle cx="1639.0" cy="1100.1" r="5.0" fill="#faba39"/><circle cx="1603.7" cy="1108.7" r="5.0" fill="#30123b"/><circle cx="1632.4" cy="1110.1" r="5.0" fill="#4685fa"/><circle cx="1565.2" cy="1110.7" r="5.0" fill="#7a0403"/><circle cx="1627.4" cy="1118.7" r="5.0" fill="#fb7e21"/><circle cx="1577.6" cy="1134.8" r="5.0" fill="#55fa76"/></g>
<ellipse cx="1663.2" cy="1050.5" rx="128.6" ry="24" transform="rotate(-43.70 1663.2 1050.5)" fill="none" stroke="#000" stroke-width="1.7"/>
<rect x="1504.9" y="893.4" width="317.1" height="314.5" fill="none" stroke="#2b2b2b" stroke-width="1.6"/>
<text x="1690.6" y="1183.9" font-size="27" textLength="97.3" lengthAdjust="spacingAndGlyphs"><tspan font-style="italic">&#961;</tspan> = 0.91</text>
<g clip-path="url(#cl13)"><g filter="url(#hot9_5)" transform="translate(1345.50,893.40)"><rect x="-20" y="-20" width="199.4" height="197.3" fill="#000"/><ellipse cx="85" cy="78" rx="58" ry="55" fill="#fff" fill-opacity="0.12"/><path d="M80,86 L104,66 L118,56" fill="none" stroke="#fff" stroke-opacity="0.55" stroke-width="32" stroke-linecap="round" stroke-linejoin="round"/><ellipse cx="118" cy="56" rx="17" ry="17" fill="#fff" fill-opacity="0.6"/><ellipse cx="74" cy="88" rx="26" ry="18" transform="rotate(-22 74 88)" fill="#fff" fill-opacity="1.0"/></g><circle cx="1425.2" cy="972.0" r="77.1" fill="none" stroke="#4a0000" stroke-opacity="0.5" stroke-width="1"/></g>
<rect x="1432.8" y="1028.9" width="62.2" height="8.3" fill="#fff"/>
<g clip-path="url(#cl14)"><g filter="url(#hot9_5)" transform="translate(1345.50,1050.65)"><rect x="-20" y="-20" width="199.4" height="197.3" fill="#000"/><ellipse cx="82" cy="78" rx="58" ry="55" fill="#fff" fill-opacity="0.12"/><path d="M75,85 L100,66 L116,55" fill="none" stroke="#fff" stroke-opacity="0.55" stroke-width="32" stroke-linecap="round" stroke-linejoin="round"/><ellipse cx="116" cy="55" rx="17" ry="17" fill="#fff" fill-opacity="0.6"/><ellipse cx="70" cy="88" rx="25" ry="18" transform="rotate(-22 70 88)" fill="#fff" fill-opacity="1.0"/></g><circle cx="1425.2" cy="1129.3" r="77.1" fill="none" stroke="#4a0000" stroke-opacity="0.5" stroke-width="1"/></g>
<rect x="1432.8" y="1194.2" width="62.2" height="8.4" fill="#fff"/>
<line x1="1346.5" y1="1050.7" x2="1504.9" y2="1050.7" stroke="#2e2e2e" stroke-width="1.1"/>
<rect x="1345.5" y="893.4" width="159.4" height="314.5" fill="none" stroke="#333" stroke-width="1"/>
<line x1="1504.2" y1="1561.5" x2="1822.0" y2="1246.0" stroke="#7f7f7f" stroke-width="1.5"/>
<g><circle cx="1770.9" cy="1281.5" r="5.0" fill="#faba39"/><circle cx="1763.8" cy="1292.8" r="5.0" fill="#434eba"/><circle cx="1764.8" cy="1293.6" r="5.0" fill="#faba39"/><circle cx="1771.9" cy="1288.7" r="5.0" fill="#fb7e21"/><circle cx="1750.8" cy="1299.6" r="5.0" fill="#4685fa"/><circle cx="1738.8" cy="1304.8" r="5.0" fill="#434eba"/><circle cx="1748.8" cy="1318.2" r="5.0" fill="#4685fa"/><circle cx="1755.4" cy="1321.6" r="5.0" fill="#fb7e21"/><circle cx="1743.4" cy="1326.9" r="5.0" fill="#faba39"/><circle cx="1751.8" cy="1333.3" r="5.0" fill="#fb7e21"/><circle cx="1698.6" cy="1327.7" r="5.0" fill="#55fa76"/><circle cx="1703.6" cy="1326.9" r="5.0" fill="#7a0403"/><circle cx="1717.3" cy="1330.3" r="5.0" fill="#7a0403"/><circle cx="1735.7" cy="1348.9" r="5.0" fill="#e4450a"/><circle cx="1738.8" cy="1347.7" r="5.0" fill="#b91e02"/><circle cx="1716.7" cy="1352.3" r="5.0" fill="#1ae4b6"/><circle cx="1723.7" cy="1358.4" r="5.0" fill="#7a0403"/><circle cx="1684.6" cy="1359.0" r="5.0" fill="#30123b"/><circle cx="1697.6" cy="1361.4" r="5.0" fill="#a4fc3c"/><circle cx="1712.1" cy="1365.0" r="5.0" fill="#28bceb"/><circle cx="1700.0" cy="1373.4" r="5.0" fill="#30123b"/><circle cx="1701.6" cy="1371.4" r="5.0" fill="#a4fc3c"/><circle cx="1677.6" cy="1369.4" r="5.0" fill="#b91e02"/><circle cx="1668.5" cy="1372.4" r="5.0" fill="#1ae4b6"/><circle cx="1664.5" cy="1377.0" r="5.0" fill="#55fa76"/><circle cx="1677.6" cy="1376.4" r="5.0" fill="#a4fc3c"/><circle cx="1657.1" cy="1379.8" r="5.0" fill="#30123b"/><circle cx="1681.6" cy="1383.0" r="5.0" fill="#7a0403"/><circle cx="1694.6" cy="1379.4" r="5.0" fill="#d9e436"/><circle cx="1704.6" cy="1381.8" r="5.0" fill="#d9e436"/><circle cx="1679.6" cy="1387.9" r="5.0" fill="#d9e436"/><circle cx="1691.6" cy="1389.5" r="5.0" fill="#55fa76"/><circle cx="1695.6" cy="1385.4" r="5.0" fill="#55fa76"/><circle cx="1655.5" cy="1387.5" r="5.0" fill="#fb7e21"/><circle cx="1651.5" cy="1390.5" r="5.0" fill="#faba39"/><circle cx="1660.5" cy="1390.5" r="5.0" fill="#28bceb"/><circle cx="1653.5" cy="1393.5" r="5.0" fill="#d9e436"/><circle cx="1671.5" cy="1397.1" r="5.0" fill="#faba39"/><circle cx="1641.4" cy="1399.9" r="5.0" fill="#d9e436"/><circle cx="1651.5" cy="1398.5" r="5.0" fill="#7a0403"/><circle cx="1646.5" cy="1404.5" r="5.0" fill="#7a0403"/><circle cx="1661.5" cy="1400.5" r="5.0" fill="#b91e02"/><circle cx="1697.2" cy="1401.5" r="5.0" fill="#30123b"/><circle cx="1643.4" cy="1405.5" r="5.0" fill="#b91e02"/><circle cx="1655.5" cy="1405.5" r="5.0" fill="#55fa76"/><circle cx="1663.5" cy="1405.5" r="5.0" fill="#4685fa"/><circle cx="1669.5" cy="1405.5" r="5.0" fill="#a4fc3c"/><circle cx="1679.2" cy="1405.9" r="5.0" fill="#7a0403"/><circle cx="1643.4" cy="1410.5" r="5.0" fill="#a4fc3c"/><circle cx="1626.4" cy="1410.5" r="5.0" fill="#28bceb"/><circle cx="1664.5" cy="1408.5" r="5.0" fill="#30123b"/><circle cx="1655.5" cy="1416.5" r="5.0" fill="#fb7e21"/><circle cx="1666.5" cy="1417.6" r="5.0" fill="#fb7e21"/><circle cx="1669.5" cy="1419.6" r="5.0" fill="#faba39"/><circle cx="1677.6" cy="1420.6" r="5.0" fill="#e4450a"/><circle cx="1661.5" cy="1424.6" r="5.0" fill="#28bceb"/><circle cx="1665.1" cy="1422.6" r="5.0" fill="#fb7e21"/><circle cx="1595.3" cy="1413.5" r="5.0" fill="#e4450a"/><circle cx="1597.7" cy="1428.6" r="5.0" fill="#b91e02"/><circle cx="1615.4" cy="1425.6" r="5.0" fill="#1ae4b6"/><circle cx="1615.8" cy="1430.0" r="5.0" fill="#fb7e21"/><circle cx="1599.3" cy="1438.0" r="5.0" fill="#b91e02"/><circle cx="1599.3" cy="1443.6" r="5.0" fill="#28bceb"/><circle cx="1631.4" cy="1435.6" r="5.0" fill="#1ae4b6"/><circle cx="1642.4" cy="1432.0" r="5.0" fill="#7a0403"/><circle cx="1655.9" cy="1434.6" r="5.0" fill="#28bceb"/><circle cx="1664.5" cy="1438.6" r="5.0" fill="#4685fa"/><circle cx="1665.1" cy="1429.2" r="5.0" fill="#e4450a"/><circle cx="1649.9" cy="1449.3" r="5.0" fill="#e4450a"/><circle cx="1613.4" cy="1449.7" r="5.0" fill="#faba39"/><circle cx="1613.8" cy="1452.7" r="5.0" fill="#434eba"/><circle cx="1562.8" cy="1456.7" r="5.0" fill="#e4450a"/><circle cx="1598.3" cy="1457.7" r="5.0" fill="#1ae4b6"/><circle cx="1620.4" cy="1460.7" r="5.0" fill="#30123b"/><circle cx="1624.4" cy="1462.7" r="5.0" fill="#30123b"/><circle cx="1599.3" cy="1466.1" r="5.0" fill="#28bceb"/><circle cx="1612.3" cy="1465.3" r="5.0" fill="#28bceb"/><circle cx="1561.2" cy="1475.7" r="5.0" fill="#b91e02"/><circle cx="1596.3" cy="1476.7" r="5.0" fill="#e4450a"/><circle cx="1598.9" cy="1481.4" r="5.0" fill="#1ae4b6"/><circle cx="1581.3" cy="1478.7" r="5.0" fill="#e4450a"/><circle cx="1582.3" cy="1493.8" r="5.0" fill="#b91e02"/></g>
<ellipse cx="1664.2" cy="1403.1" rx="131.8" ry="23" transform="rotate(-43.86 1664.2 1403.1)" fill="none" stroke="#000" stroke-width="1.7"/>
<rect x="1504.2" y="1246.0" width="317.8" height="315.5" fill="none" stroke="#2b2b2b" stroke-width="1.6"/>
<text x="1694.6" y="1534.9" font-size="27" textLength="101.3" lengthAdjust="spacingAndGlyphs"><tspan font-style="italic">&#961;</tspan> = 0.92</text>
<g clip-path="url(#cl15)"><g filter="url(#hot9)" transform="translate(1345.50,1246.00)"><rect x="-20" y="-20" width="198.7" height="197.8" fill="#000"/><circle cx="88" cy="80" r="44" fill="none" stroke="#fff" stroke-opacity="0.22" stroke-width="22"/><path d="M85,30 L52,42 L38,79 L50,115 L84,128" fill="none" stroke="#fff" stroke-opacity="0.4" stroke-width="22" stroke-linecap="round" stroke-linejoin="round"/><ellipse cx="85" cy="30" rx="24" ry="14" fill="#fff" fill-opacity="1.0"/><ellipse cx="38" cy="79" rx="14" ry="22" fill="#fff" fill-opacity="1.0"/><ellipse cx="84" cy="128" rx="24" ry="12" fill="#fff" fill-opacity="0.95"/></g><circle cx="1424.8" cy="1324.9" r="77.4" fill="none" stroke="#4a0000" stroke-opacity="0.5" stroke-width="1"/></g>
<rect x="1432.8" y="1381.1" width="62.2" height="8.5" fill="#fff"/>
<g clip-path="url(#cl16)"><g filter="url(#hot9)" transform="translate(1345.50,1403.75)"><rect x="-20" y="-20" width="198.7" height="197.8" fill="#000"/><circle cx="88" cy="80" r="46" fill="none" stroke="#fff" stroke-opacity="0.22" stroke-width="22"/><path d="M85,30 L52,46 L40,84 L58,118 L98,128" fill="none" stroke="#fff" stroke-opacity="0.38" stroke-width="22" stroke-linecap="round" stroke-linejoin="round"/><ellipse cx="85" cy="30" rx="26" ry="14" fill="#fff" fill-opacity="0.95"/><ellipse cx="40" cy="84" rx="14" ry="22" fill="#fff" fill-opacity="0.95"/><ellipse cx="98" cy="128" rx="24" ry="14" transform="rotate(-15 98 128)" fill="#fff" fill-opacity="1.0"/></g><circle cx="1424.8" cy="1482.6" r="77.4" fill="none" stroke="#4a0000" stroke-opacity="0.5" stroke-width="1"/></g>
<rect x="1432.8" y="1546.2" width="62.2" height="8.6" fill="#fff"/>
<line x1="1346.5" y1="1403.8" x2="1504.2" y2="1403.8" stroke="#2e2e2e" stroke-width="1.1"/>
<rect x="1345.5" y="1246.0" width="158.7" height="315.5" fill="none" stroke="#333" stroke-width="1"/>
<path d="M1216.3,125.9 H1224.6 M1216.3,442.1 H1224.6 M897.0,442.1 V450.6 M1216.3,442.1 V450.6" stroke="#2b2b2b" stroke-width="1.5"/>
<text x="1231.4" y="132.9" font-size="22" textLength="46.5" lengthAdjust="spacingAndGlyphs">0.65</text>
<text x="1230.5" y="449.1" font-size="22" textLength="59.2" lengthAdjust="spacingAndGlyphs">&#8722;0.65</text>
<text x="866.4" y="472.8" font-size="22" textLength="60.5" lengthAdjust="spacingAndGlyphs">&#8722;0.65</text>
<text x="1192.3" y="472.8" font-size="22" textLength="46.7" lengthAdjust="spacingAndGlyphs">0.65</text>
<text x="1056.5" y="515.6" font-size="26.5" text-anchor="middle" textLength="229" lengthAdjust="spacingAndGlyphs">Re(c<tspan font-size="17" dy="5" font-style="italic">i</tspan><tspan dy="-5">), Im(c</tspan><tspan font-size="17" dy="5" font-style="italic">i</tspan><tspan dy="-5">) (sim.)</tspan></text>
<text transform="translate(1303.3,284) rotate(90)" font-size="26.5" text-anchor="middle" textLength="228.6" lengthAdjust="spacingAndGlyphs">Re(c<tspan font-size="17" dy="5" font-style="italic">i</tspan><tspan dy="-5">), Im(c</tspan><tspan font-size="17" dy="5" font-style="italic">i</tspan><tspan dy="-5">) (exp.)</tspan></text>
<g clip-path="url(#cl17)"><g filter="url(#hot9)" transform="translate(138.00,899.10)"><rect x="-20" y="-20" width="226.0" height="225.6" fill="#000"/><ellipse cx="92" cy="92" rx="80" ry="80" fill="#fff" fill-opacity="0.08"/><path d="M86,30 L90,91 L95,152" fill="none" stroke="#fff" stroke-opacity="0.42" stroke-width="30" stroke-linecap="round" stroke-linejoin="round"/><path d="M29,96 L90,91 L153,85" fill="none" stroke="#fff" stroke-opacity="0.42" stroke-width="30" stroke-linecap="round" stroke-linejoin="round"/><ellipse cx="90" cy="91" rx="21" ry="21" fill="#fff" fill-opacity="0.8"/><ellipse cx="86" cy="30" rx="18" ry="17" fill="#fff" fill-opacity="1.0"/><ellipse cx="29" cy="96" rx="16" ry="22" fill="#fff" fill-opacity="1.0"/><ellipse cx="153" cy="85" rx="17" ry="23" fill="#fff" fill-opacity="1.0"/><ellipse cx="95" cy="152" rx="19" ry="16" fill="#fff" fill-opacity="1.0"/></g><circle cx="231.0" cy="991.9" r="91.3" fill="none" stroke="#4a0000" stroke-opacity="0.5" stroke-width="1"/></g>
<g stroke="#4a72c4" stroke-width="1.6" fill="none"><line x1="147.8" y1="991.8" x2="314.0" y2="991.8"/><line x1="229.4" y1="910.9" x2="229.4" y2="1077.9"/><circle cx="229.4" cy="991.8" r="23.2"/><line x1="229.4" y1="991.8" x2="253.8" y2="949.9"/></g>
<rect x="243.7" y="1067.7" width="72.6" height="8.3" fill="#fff"/>
<text x="209.4" y="926.1" font-size="27" font-style="italic" fill="#fff">y</text>
<text x="257.6" y="973.8" font-size="27" font-style="italic" fill="#fff">&#952;</text>
<text x="304.6" y="1016.3" font-size="27" font-style="italic" fill="#fff">x</text>
</svg>
</body></html>
